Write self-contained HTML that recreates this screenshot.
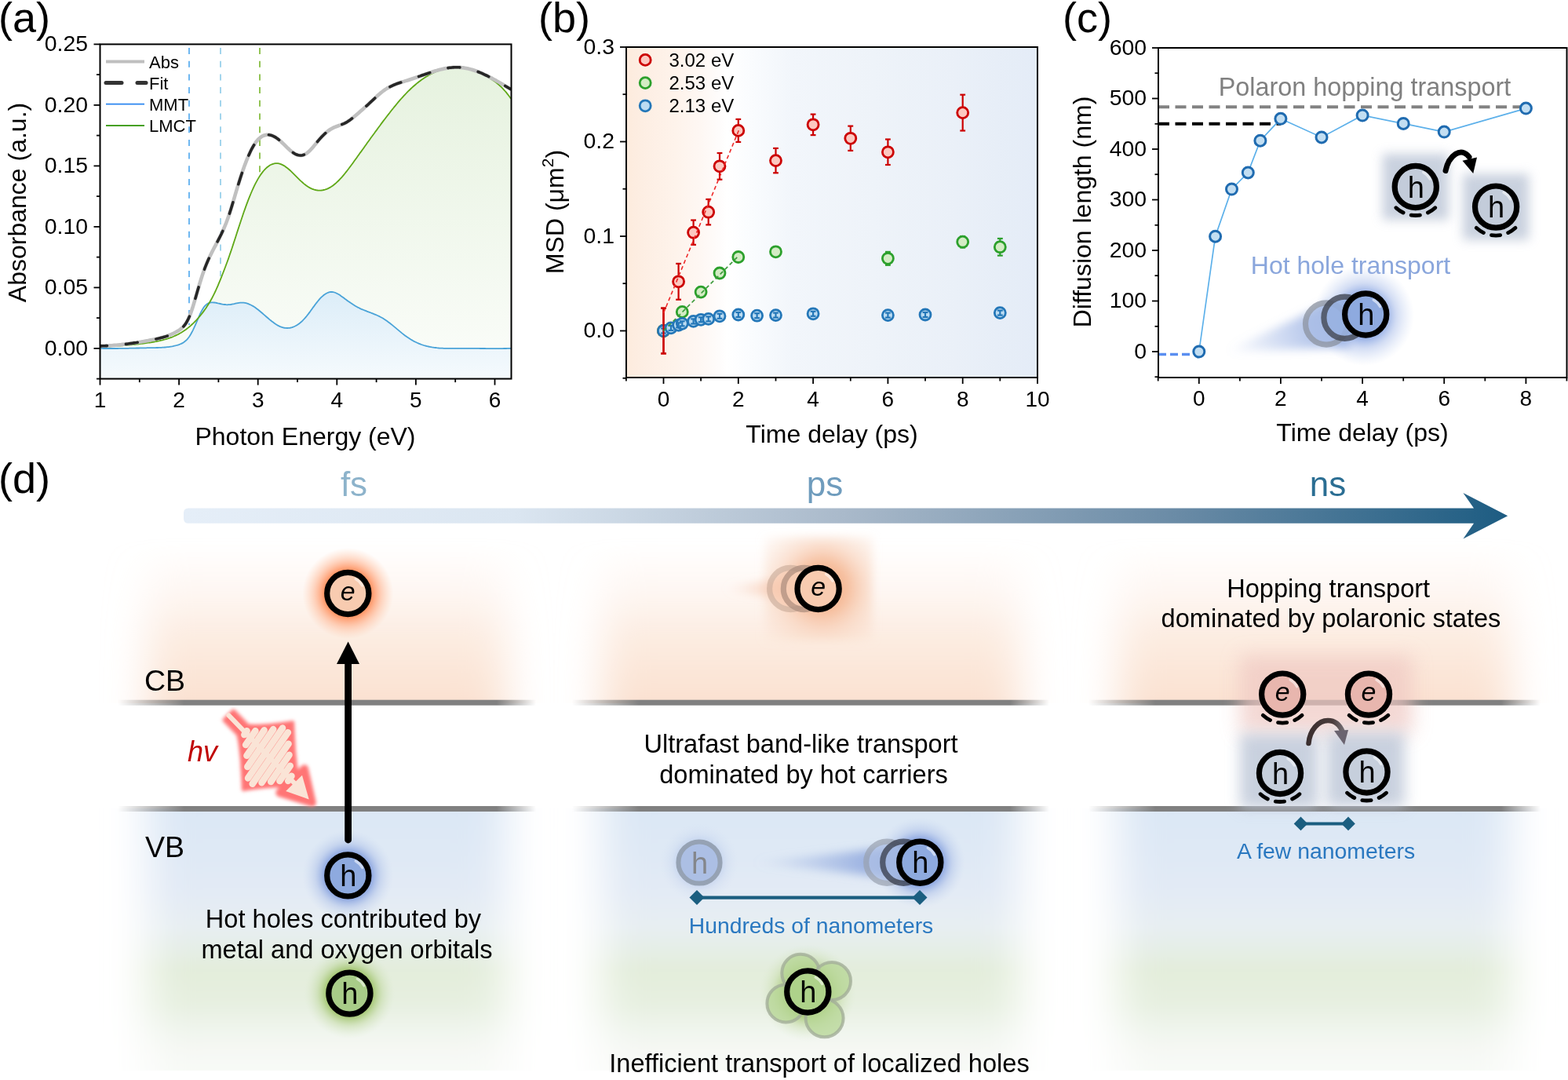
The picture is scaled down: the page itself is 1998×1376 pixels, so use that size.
<!DOCTYPE html>
<html><head><meta charset="utf-8"><title>Figure</title>
<style>html,body{margin:0;padding:0;background:#fff;} svg{display:block;}</style>
</head><body>
<svg width="1998" height="1376" viewBox="0 0 1998 1376" font-family="&quot;Liberation Sans&quot;, Arial, Helvetica, sans-serif">
<defs>
<filter id="blurx" x="-20%" y="-20%" width="140%" height="140%"><feGaussianBlur stdDeviation="26 4"/></filter>
<filter id="blur3" x="-30%" y="-30%" width="160%" height="160%"><feGaussianBlur stdDeviation="3"/></filter>
<filter id="blur6" x="-30%" y="-50%" width="160%" height="200%"><feGaussianBlur stdDeviation="6"/></filter>
<filter id="blur7" x="-50%" y="-50%" width="200%" height="200%"><feGaussianBlur stdDeviation="7"/></filter>
<filter id="blur2" x="-30%" y="-30%" width="160%" height="160%"><feGaussianBlur stdDeviation="2"/></filter>
<filter id="blur9" x="-50%" y="-50%" width="200%" height="200%"><feGaussianBlur stdDeviation="9"/></filter>
<filter id="blur12" x="-50%" y="-50%" width="200%" height="200%"><feGaussianBlur stdDeviation="12"/></filter>
</defs>
<rect width="1998" height="1376" fill="#fff"/>
<defs>
<linearGradient id="gd_arrow" x1="234" y1="0" x2="1921" y2="0" gradientUnits="userSpaceOnUse">
<stop offset="0" stop-color="#e5eef8"/><stop offset="0.25" stop-color="#dbe6f1"/><stop offset="0.5" stop-color="#a9b9ca"/><stop offset="0.75" stop-color="#6a8ba6"/><stop offset="1" stop-color="#1d5c82"/></linearGradient>
<linearGradient id="gd_or" x1="0" y1="690" x2="0" y2="896" gradientUnits="userSpaceOnUse">
<stop offset="0" stop-color="#fbe3d3" stop-opacity="0"/><stop offset="0.3" stop-color="#fbe3d3" stop-opacity="0.28"/><stop offset="0.6" stop-color="#fbe3d3" stop-opacity="0.68"/><stop offset="0.85" stop-color="#fbe3d3" stop-opacity="0.92"/><stop offset="1" stop-color="#fae1d1"/></linearGradient>
<linearGradient id="gd_vb" x1="0" y1="1030" x2="0" y2="1364" gradientUnits="userSpaceOnUse">
<stop offset="0" stop-color="#dbe7f5"/><stop offset="0.3" stop-color="#e2eaf5"/><stop offset="0.45" stop-color="#e7eef2"/><stop offset="0.62" stop-color="#e3eddb"/><stop offset="0.75" stop-color="#e7f0e1"/><stop offset="0.87" stop-color="#f2f6f0"/><stop offset="0.93" stop-color="#f6f8f4"/><stop offset="1" stop-color="#f8faf7"/></linearGradient>
<linearGradient id="gd_line" x1="0" y1="0" x2="1" y2="0">
<stop offset="0" stop-color="#808080" stop-opacity="0"/><stop offset="0.18" stop-color="#808080" stop-opacity="1"/><stop offset="0.9" stop-color="#808080" stop-opacity="1"/><stop offset="1" stop-color="#808080" stop-opacity="0"/></linearGradient>
<clipPath id="clip_cb"><rect x="0" y="600" width="1998" height="296"/></clipPath>
<clipPath id="clip_vb"><rect x="0" y="1030" width="1998" height="334"/></clipPath>
<radialGradient id="glow_or"><stop offset="0.5" stop-color="#ff8a55" stop-opacity="0.95"/><stop offset="0.75" stop-color="#ffb08a" stop-opacity="0.5"/><stop offset="1" stop-color="#ffc8a8" stop-opacity="0"/></radialGradient>
<radialGradient id="glow_bl"><stop offset="0.48" stop-color="#7896dc" stop-opacity="0.9"/><stop offset="0.72" stop-color="#a4b9e6" stop-opacity="0.42"/><stop offset="1" stop-color="#c8d6f0" stop-opacity="0"/></radialGradient>
<radialGradient id="glow_gr"><stop offset="0.48" stop-color="#94bc58" stop-opacity="0.9"/><stop offset="0.72" stop-color="#b6d290" stop-opacity="0.42"/><stop offset="1" stop-color="#d6e6c8" stop-opacity="0"/></radialGradient>
<linearGradient id="gd_trail2" x1="960" y1="0" x2="1130" y2="0" gradientUnits="userSpaceOnUse"><stop offset="0" stop-color="#9fb5e2" stop-opacity="0"/><stop offset="1" stop-color="#8fa8de" stop-opacity="1"/></linearGradient>
<linearGradient id="gd_trail_e" x1="920" y1="0" x2="1010" y2="0" gradientUnits="userSpaceOnUse"><stop offset="0" stop-color="#f6c8b0" stop-opacity="0"/><stop offset="1" stop-color="#f6c0a4" stop-opacity="0.9"/></linearGradient>
</defs>
<g clip-path="url(#clip_cb)"><rect x="188" y="680" width="457" height="240" fill="url(#gd_or)" filter="url(#blurx)"/></g>
<g clip-path="url(#clip_vb)"><rect x="188" y="1020" width="457" height="360" fill="url(#gd_vb)" filter="url(#blurx)"/></g>
<g clip-path="url(#clip_cb)"><rect x="767" y="680" width="532" height="240" fill="url(#gd_or)" filter="url(#blurx)"/></g>
<g clip-path="url(#clip_vb)"><rect x="767" y="1020" width="532" height="360" fill="url(#gd_vb)" filter="url(#blurx)"/></g>
<g clip-path="url(#clip_cb)"><rect x="1425" y="680" width="500" height="240" fill="url(#gd_or)" filter="url(#blurx)"/></g>
<g clip-path="url(#clip_vb)"><rect x="1425" y="1020" width="500" height="360" fill="url(#gd_vb)" filter="url(#blurx)"/></g>
<linearGradient id="gl0" x1="150" y1="0" x2="683" y2="0" gradientUnits="userSpaceOnUse"><stop offset="0" stop-color="#808080" stop-opacity="0"/><stop offset="0.159" stop-color="#808080"/><stop offset="0.906" stop-color="#808080"/><stop offset="1" stop-color="#808080" stop-opacity="0"/></linearGradient>
<rect x="150" y="891.7" width="533" height="7" fill="url(#gl0)"/>
<rect x="150" y="1027.0" width="533" height="7" fill="url(#gl0)"/>
<linearGradient id="gl1" x1="729" y1="0" x2="1337" y2="0" gradientUnits="userSpaceOnUse"><stop offset="0" stop-color="#808080" stop-opacity="0"/><stop offset="0.140" stop-color="#808080"/><stop offset="0.918" stop-color="#808080"/><stop offset="1" stop-color="#808080" stop-opacity="0"/></linearGradient>
<rect x="729" y="891.7" width="608" height="7" fill="url(#gl1)"/>
<rect x="729" y="1027.0" width="608" height="7" fill="url(#gl1)"/>
<linearGradient id="gl2" x1="1387" y1="0" x2="1963" y2="0" gradientUnits="userSpaceOnUse"><stop offset="0" stop-color="#808080" stop-opacity="0"/><stop offset="0.148" stop-color="#808080"/><stop offset="0.913" stop-color="#808080"/><stop offset="1" stop-color="#808080" stop-opacity="0"/></linearGradient>
<rect x="1387" y="891.7" width="576" height="7" fill="url(#gl2)"/>
<rect x="1387" y="1027.0" width="576" height="7" fill="url(#gl2)"/>
<path d="M240,647.5 L1878,647.5 L1864.4,628.1 L1921.2,657.3 L1864.4,686.4 L1878,666.8 L240,666.8 Q234,666.8 234,660.8 L234,653.5 Q234,647.5 240,647.5 Z" fill="url(#gd_arrow)"/>
<text x="451.0" y="632.0" font-size="44" text-anchor="middle" fill="#8db3cb" >fs</text>
<text x="1051.0" y="632.0" font-size="44" text-anchor="middle" fill="#6f9cbd" >ps</text>
<text x="1692.0" y="632.0" font-size="44" text-anchor="middle" fill="#2b6e93" >ns</text>
<text x="-2.0" y="627.7" font-size="54" text-anchor="start" fill="#000" >(d)</text>
<text x="184.0" y="880.0" font-size="37.5" text-anchor="start" fill="#000" >CB</text>
<text x="185.0" y="1092.0" font-size="37.5" text-anchor="start" fill="#000" >VB</text>
<text x="239.0" y="970.0" font-size="36" text-anchor="start" fill="#c00000" font-style="italic">hv</text>
<g transform="translate(291.4,911.4) rotate(45.9)">
<g filter="url(#blur2)"><path d="M0.0,-8.5 L2.0,-8.5 L4.0,-8.5 L6.0,-8.5 L8.0,-8.5 L10.0,-8.5 L12.0,-8.5 L14.0,-8.5 L16.0,-8.5 L18.0,-8.5 L20.0,-8.5 L22.0,-8.5 L24.0,-8.5 L26.0,-8.5 L27.8,-9.7 L29.5,-11.2 L31.2,-12.7 L32.8,-14.4 L34.5,-16.1 L36.1,-17.9 L37.8,-19.7 L39.4,-21.6 L41.0,-23.5 L42.6,-25.4 L44.2,-27.3 L45.8,-29.3 L47.4,-31.3 L49.0,-33.4 L50.6,-35.4 L52.2,-37.5 L53.8,-39.6 L55.4,-41.7 L56.9,-43.8 L58.5,-46.0 L60.1,-48.1 L61.6,-50.3 L63.2,-52.5 L65.6,-50.3 L68.1,-48.1 L70.5,-46.0 L72.9,-43.8 L75.4,-41.7 L77.8,-39.6 L80.2,-37.5 L82.6,-35.4 L85.0,-33.4 L87.4,-31.3 L89.8,-29.3 L92.2,-27.3 L94.6,-25.4 L97.0,-23.5 L99.4,-21.6 L101.8,-19.7 L104.1,-17.9 L106.5,-16.1 L108.8,-14.4 L111.2,-12.7 L113.5,-11.2 L115.8,-9.7 L118.0,-8.5 L120.0,-8.5 L122.0,-8.5 L124.0,-8.5 L126.0,-8.5 L128.0,-8.5 L130.0,-8.5 L130.0,8.5 L128.0,8.5 L126.0,8.5 L124.0,8.5 L122.0,8.5 L120.0,8.5 L118.0,8.5 L116.2,9.7 L114.5,11.2 L112.8,12.7 L111.2,14.4 L109.5,16.1 L107.9,17.9 L106.2,19.7 L104.6,21.6 L103.0,23.5 L101.4,25.4 L99.8,27.3 L98.2,29.3 L96.6,31.3 L95.0,33.4 L93.4,35.4 L91.8,37.5 L90.2,39.6 L88.6,41.7 L87.1,43.8 L85.5,46.0 L83.9,48.1 L82.4,50.3 L80.8,52.5 L78.4,50.3 L75.9,48.1 L73.5,46.0 L71.1,43.8 L68.6,41.7 L66.2,39.6 L63.8,37.5 L61.4,35.4 L59.0,33.4 L56.6,31.3 L54.2,29.3 L51.8,27.3 L49.4,25.4 L47.0,23.5 L44.6,21.6 L42.2,19.7 L39.9,17.9 L37.5,16.1 L35.2,14.4 L32.8,12.7 L30.5,11.2 L28.2,9.7 L26.0,8.5 L24.0,8.5 L22.0,8.5 L20.0,8.5 L18.0,8.5 L16.0,8.5 L14.0,8.5 L12.0,8.5 L10.0,8.5 L8.0,8.5 L6.0,8.5 L4.0,8.5 L2.0,8.5 L0.0,8.5 Z" fill="#ff7474" stroke="#ff7474" stroke-width="4" stroke-linejoin="round"/><path d="M116,-22 L154,1 L116,22 Z" fill="#ff7474" stroke="#ff7474" stroke-width="10" stroke-linejoin="round"/></g>
<path d="M0,0 L124,0" stroke="#fae4d6" stroke-width="6" stroke-linecap="round"/>
<path d="M30.4,-2.9 L31.6,2.9 M37.9,-10.7 L42.1,10.7 M45.1,-19.3 L52.9,19.3 M52.3,-28.5 L63.7,28.5 M59.4,-38.0 L74.6,38.0 M68.2,-39.1 L83.8,39.1 M79.1,-29.5 L90.9,29.5 M89.9,-20.3 L98.1,20.3 M100.7,-11.6 L105.3,11.6 M111.3,-3.7 L112.7,3.7" fill="none" stroke="#fae4d6" stroke-width="8.5" stroke-linecap="round"/>
<path d="M120,-14 L148,1 L120,15 Z" fill="#fae4d6"/>
</g>
<circle cx="443.3" cy="756" r="58" fill="url(#glow_or)"/>
<circle cx="443.3" cy="1115.4" r="58" fill="url(#glow_bl)"/>
<circle cx="445.4" cy="1265.6" r="58" fill="url(#glow_gr)"/>
<line x1="443.6" y1="1070" x2="443.6" y2="840" stroke="#000" stroke-width="8.8" stroke-linecap="round"/>
<path d="M429,846 L443.6,817.5 L458,846 Z" fill="#000"/>
<g>
<circle cx="443.3" cy="756.0" r="26.6" fill="#f8cbb0" stroke="#000" stroke-width="7.2"/>
<path d="M453.1,737.6 A20.8,20.8 0 0 1 461.7,746.2" fill="none" stroke="#fff" stroke-opacity="0.55" stroke-width="3.2" stroke-linecap="round"/>
<text x="443.3" y="764.5" font-size="34" text-anchor="middle" fill="#000" font-style="italic">e</text>
</g>
<g>
<circle cx="443.3" cy="1115.4" r="26.6" fill="#8eaadf" stroke="#000" stroke-width="7.2"/>
<path d="M453.1,1097.0 A20.8,20.8 0 0 1 461.7,1105.6" fill="none" stroke="#fff" stroke-opacity="0.55" stroke-width="3.2" stroke-linecap="round"/>
<text x="443.8" y="1128.9" font-size="38" text-anchor="middle" fill="#000">h</text>
</g>
<g>
<circle cx="445.4" cy="1265.6" r="26.6" fill="#a8cc88" stroke="#000" stroke-width="7.2"/>
<path d="M455.2,1247.2 A20.8,20.8 0 0 1 463.8,1255.8" fill="none" stroke="#fff" stroke-opacity="0.55" stroke-width="3.2" stroke-linecap="round"/>
<text x="445.9" y="1279.1" font-size="38" text-anchor="middle" fill="#000">h</text>
</g>
<text x="437.5" y="1181.7" font-size="32.6" text-anchor="middle" fill="#000" >Hot holes contributed by</text>
<text x="442.0" y="1220.7" font-size="32.6" text-anchor="middle" fill="#000" >metal and oxygen orbitals</text>
<radialGradient id="glow_e2" cx="1048" cy="748" r="95" gradientUnits="userSpaceOnUse"><stop offset="0.3" stop-color="#f5b48e" stop-opacity="0.9"/><stop offset="0.6" stop-color="#f7ccb2" stop-opacity="0.55"/><stop offset="1" stop-color="#f9dccb" stop-opacity="0.15"/></radialGradient>
<rect x="974" y="684" width="138" height="132" fill="url(#glow_e2)" filter="url(#blur6)"/>
<path d="M922,750 L1012,734 L1012,766 Z" fill="url(#gd_trail_e)" filter="url(#blur6)"/>
<g opacity="0.6">
<circle cx="1007.2" cy="750.0" r="26.6" fill="#f8cdb4" stroke="#c8aa98" stroke-width="7.2"/>
</g>
<g opacity="0.75">
<circle cx="1024.9" cy="750.0" r="26.6" fill="#f8cdb4" stroke="#b09080" stroke-width="7.2"/>
</g>
<g>
<circle cx="1042.6" cy="750.0" r="26.6" fill="#f8cbb0" stroke="#000" stroke-width="7.2"/>
<path d="M1052.4,731.6 A20.8,20.8 0 0 1 1061.0,740.2" fill="none" stroke="#fff" stroke-opacity="0.55" stroke-width="3.2" stroke-linecap="round"/>
<text x="1042.6" y="758.5" font-size="34" text-anchor="middle" fill="#000" font-style="italic">e</text>
</g>
<text x="1020.5" y="959.0" font-size="32.6" text-anchor="middle" fill="#000" >Ultrafast band-like transport</text>
<text x="1024.0" y="997.7" font-size="32.6" text-anchor="middle" fill="#000" >dominated by hot carriers</text>
<circle cx="891" cy="1099" r="50" fill="url(#glow_bl)" opacity="0.35"/>
<circle cx="1172" cy="1099" r="58" fill="url(#glow_bl)"/>
<path d="M955,1099 L1132,1080 L1132,1118 Z" fill="url(#gd_trail2)" filter="url(#blur6)"/>
<g opacity="0.85">
<circle cx="891.0" cy="1099.0" r="26.6" fill="#a9bde3" stroke="#8e9aaa" stroke-width="6"/>
<text x="891.5" y="1112.5" font-size="38" text-anchor="middle" fill="#7a7a7a">h</text>
</g>
<g opacity="0.7">
<circle cx="1130.3" cy="1098.7" r="26.6" fill="#b0c2e6" stroke="#9aa2b0" stroke-width="7.2"/>
</g>
<g opacity="0.8">
<circle cx="1151.3" cy="1098.7" r="26.6" fill="#a0b6e2" stroke="#3c4252" stroke-width="7.2"/>
</g>
<g>
<circle cx="1172.3" cy="1098.7" r="26.6" fill="#8eaadf" stroke="#000" stroke-width="7.2"/>
<path d="M1182.1,1080.3 A20.8,20.8 0 0 1 1190.7,1088.9" fill="none" stroke="#fff" stroke-opacity="0.55" stroke-width="3.2" stroke-linecap="round"/>
<text x="1172.8" y="1112.2" font-size="38" text-anchor="middle" fill="#000">h</text>
</g>
<line x1="888" y1="1143.6" x2="1172" y2="1143.6" stroke="#1b5e80" stroke-width="4.2"/>
<path d="M878.5,1143.6 L888,1134.1 L897.5,1143.6 L888,1153.1 Z" fill="#1b5e80"/>
<path d="M1162.5,1143.6 L1172,1134.1 L1181.5,1143.6 L1172,1153.1 Z" fill="#1b5e80"/>
<text x="1033.5" y="1188.5" font-size="28.3" text-anchor="middle" fill="#2a78c0" >Hundreds of nanometers</text>
<circle cx="1029" cy="1265" r="62" fill="url(#glow_gr)" opacity="0.8"/>
<circle cx="1020.3" cy="1239.7" r="24" fill="#b5d694" fill-opacity="0.75" stroke="#a3ae98" stroke-opacity="0.8" stroke-width="4"/>
<circle cx="1060" cy="1250" r="24" fill="#b5d694" fill-opacity="0.75" stroke="#a3ae98" stroke-opacity="0.8" stroke-width="4"/>
<circle cx="1001.4" cy="1278.4" r="24" fill="#b5d694" fill-opacity="0.75" stroke="#a3ae98" stroke-opacity="0.8" stroke-width="4"/>
<circle cx="1050.6" cy="1297.3" r="24" fill="#b5d694" fill-opacity="0.75" stroke="#a3ae98" stroke-opacity="0.8" stroke-width="4"/>
<g>
<circle cx="1029.3" cy="1263.5" r="26.6" fill="#aed28a" stroke="#000" stroke-width="7.2"/>
<path d="M1039.1,1245.1 A20.8,20.8 0 0 1 1047.7,1253.7" fill="none" stroke="#fff" stroke-opacity="0.55" stroke-width="3.2" stroke-linecap="round"/>
<text x="1029.8" y="1277.0" font-size="38" text-anchor="middle" fill="#000">h</text>
</g>
<text x="1044.0" y="1365.6" font-size="32.6" text-anchor="middle" fill="#000" >Inefficient transport of localized holes</text>
<text x="1692.7" y="761.0" font-size="32.6" text-anchor="middle" fill="#000" >Hopping transport</text>
<text x="1696.0" y="799.0" font-size="32.6" text-anchor="middle" fill="#000" >dominated by polaronic states</text>
<rect x="1580" y="835" width="220" height="100" fill="#efc8c2" filter="url(#blur12)" opacity="0.7"/>
<rect x="1580" y="935" width="100" height="95" fill="#c0c9d9" filter="url(#blur9)" opacity="0.85"/>
<rect x="1690" y="933" width="100" height="95" fill="#c0c9d9" filter="url(#blur9)" opacity="0.85"/>
<g>
<circle cx="1634.2" cy="884.6" r="26.6" fill="#e8b6ae" stroke="#000" stroke-width="7.2"/>
<path d="M1644.0,866.2 A20.8,20.8 0 0 1 1652.6,874.8" fill="none" stroke="#fff" stroke-opacity="0.55" stroke-width="3.2" stroke-linecap="round"/>
<text x="1634.2" y="893.1" font-size="34" text-anchor="middle" fill="#000" font-style="italic">e</text>
</g>
<path d="M1659.1,911.3 A36.5,36.5 0 0 1 1609.3,911.3" fill="none" stroke="#000" stroke-width="4.8" stroke-linecap="round" stroke-dasharray="11.3,10.4"/>
<g>
<circle cx="1744.0" cy="884.6" r="26.6" fill="#e8b6ae" stroke="#000" stroke-width="7.2"/>
<path d="M1753.8,866.2 A20.8,20.8 0 0 1 1762.4,874.8" fill="none" stroke="#fff" stroke-opacity="0.55" stroke-width="3.2" stroke-linecap="round"/>
<text x="1744.0" y="893.1" font-size="34" text-anchor="middle" fill="#000" font-style="italic">e</text>
</g>
<path d="M1768.9,911.3 A36.5,36.5 0 0 1 1719.1,911.3" fill="none" stroke="#000" stroke-width="4.8" stroke-linecap="round" stroke-dasharray="11.3,10.4"/>
<g>
<circle cx="1631.0" cy="985.0" r="26.6" fill="#c6cfdc" stroke="#000" stroke-width="7.2"/>
<path d="M1640.8,966.6 A20.8,20.8 0 0 1 1649.4,975.2" fill="none" stroke="#fff" stroke-opacity="0.55" stroke-width="3.2" stroke-linecap="round"/>
<text x="1631.5" y="998.5" font-size="38" text-anchor="middle" fill="#000">h</text>
</g>
<path d="M1655.9,1011.7 A36.5,36.5 0 0 1 1606.1,1011.7" fill="none" stroke="#000" stroke-width="4.8" stroke-linecap="round" stroke-dasharray="11.3,10.4"/>
<g>
<circle cx="1741.5" cy="983.5" r="26.6" fill="#c6cfdc" stroke="#000" stroke-width="7.2"/>
<path d="M1751.3,965.1 A20.8,20.8 0 0 1 1759.9,973.7" fill="none" stroke="#fff" stroke-opacity="0.55" stroke-width="3.2" stroke-linecap="round"/>
<text x="1742.0" y="997.0" font-size="38" text-anchor="middle" fill="#000">h</text>
</g>
<path d="M1766.4,1010.2 A36.5,36.5 0 0 1 1716.6,1010.2" fill="none" stroke="#000" stroke-width="4.8" stroke-linecap="round" stroke-dasharray="11.3,10.4"/>
<linearGradient id="g_hop" x1="1665" y1="0" x2="1720" y2="0" gradientUnits="userSpaceOnUse"><stop offset="0" stop-color="#3a2e2e"/><stop offset="0.6" stop-color="#4a3c3c"/><stop offset="1" stop-color="#8a8890"/></linearGradient>
<path d="M1667.5,947 C1669,930 1680,918 1692,918 C1702,918 1708,925 1711,933" fill="none" stroke="url(#g_hop)" stroke-width="6.5" stroke-linecap="round"/>
<path d="M1700,931 L1718,930 L1713,949 Z" fill="#6a6470"/>
<line x1="1657.5" y1="1049.4" x2="1718" y2="1049.4" stroke="#1b5e80" stroke-width="4"/>
<path d="M1648.7,1049.4 L1657.5,1040.6 L1666.3,1049.4 L1657.5,1058.2 Z" fill="#1b5e80"/>
<path d="M1709.2,1049.4 L1718,1040.6 L1726.8,1049.4 L1718,1058.2 Z" fill="#1b5e80"/>
<text x="1689.5" y="1094.0" font-size="28.4" text-anchor="middle" fill="#2a78c0" >A few nanometers</text>
<defs>
<linearGradient id="ga_g" x1="0" y1="0" x2="0" y2="1"><stop offset="0" stop-color="#e6f2df"/><stop offset="1" stop-color="#fbfdfa"/></linearGradient>
<linearGradient id="ga_b" x1="0" y1="0" x2="0" y2="1"><stop offset="0" stop-color="#dcedf8"/><stop offset="1" stop-color="#f5fafd"/></linearGradient>
<clipPath id="ca"><rect x="127.5" y="56.4" width="524.0" height="426.2"/></clipPath>
</defs>
<g clip-path="url(#ca)">
<path d="M127.5,442.1 L129.0,442.0 L130.5,441.9 L132.0,441.8 L133.5,441.7 L135.0,441.7 L136.5,441.6 L138.0,441.5 L139.5,441.4 L141.0,441.3 L142.5,441.2 L144.0,441.1 L145.5,441.0 L147.0,440.9 L148.5,440.8 L150.0,440.7 L151.5,440.6 L153.0,440.5 L154.5,440.4 L156.0,440.3 L157.5,440.2 L159.0,440.1 L160.5,439.9 L162.0,439.8 L163.5,439.7 L165.0,439.5 L166.5,439.4 L168.0,439.3 L169.5,439.1 L171.0,439.0 L172.5,438.8 L174.0,438.6 L175.5,438.5 L177.0,438.3 L178.5,438.1 L180.0,437.9 L181.5,437.8 L183.0,437.6 L184.5,437.4 L186.0,437.1 L187.5,436.9 L189.0,436.7 L190.5,436.5 L192.0,436.3 L193.5,436.0 L195.0,435.8 L196.5,435.5 L198.0,435.2 L199.5,435.0 L201.0,434.7 L202.5,434.4 L204.0,434.0 L205.5,433.7 L207.0,433.3 L208.5,432.9 L210.0,432.5 L211.5,432.1 L213.0,431.7 L214.5,431.2 L216.0,430.7 L217.5,430.1 L219.0,429.6 L220.5,429.0 L222.0,428.3 L223.5,427.6 L225.0,426.9 L226.5,426.2 L228.0,425.4 L229.5,424.5 L231.0,423.7 L232.5,422.7 L234.0,421.8 L235.5,420.7 L237.0,419.7 L238.5,418.6 L240.0,417.4 L241.5,416.2 L243.0,414.9 L244.5,413.5 L246.0,412.1 L247.5,410.7 L249.0,409.1 L250.5,407.6 L252.0,405.9 L253.5,404.2 L255.0,402.4 L256.5,400.5 L258.0,398.6 L259.5,396.6 L261.0,394.5 L262.5,392.4 L264.0,390.1 L265.5,387.7 L267.0,385.3 L268.5,382.7 L270.0,380.0 L271.5,377.1 L273.0,374.1 L274.5,371.0 L276.0,367.7 L277.5,364.3 L279.0,360.7 L280.5,357.1 L282.0,353.3 L283.5,349.5 L285.0,345.7 L286.5,341.8 L288.0,337.8 L289.5,333.7 L291.0,329.6 L292.5,325.3 L294.0,320.9 L295.5,316.5 L297.0,311.9 L298.5,307.3 L300.0,302.7 L301.5,298.0 L303.0,293.4 L304.5,288.8 L306.0,284.2 L307.5,279.7 L309.0,275.2 L310.5,270.8 L312.0,266.6 L313.5,262.4 L315.0,258.4 L316.5,254.4 L318.0,250.6 L319.5,247.0 L321.0,243.5 L322.5,240.1 L324.0,236.9 L325.5,233.9 L327.0,231.1 L328.5,228.4 L330.0,225.9 L331.5,223.5 L333.0,221.4 L334.5,219.4 L336.0,217.5 L337.5,215.9 L339.0,214.4 L340.5,213.0 L342.0,211.9 L343.5,210.8 L345.0,210.0 L346.5,209.3 L348.0,208.8 L349.5,208.4 L351.0,208.2 L352.5,208.1 L354.0,208.2 L355.5,208.4 L357.0,208.8 L358.5,209.4 L360.0,210.1 L361.5,210.9 L363.0,211.8 L364.5,212.9 L366.0,214.0 L367.5,215.2 L369.0,216.5 L370.5,217.9 L372.0,219.3 L373.5,220.8 L375.0,222.3 L376.5,223.8 L378.0,225.3 L379.5,226.8 L381.0,228.3 L382.5,229.8 L384.0,231.2 L385.5,232.5 L387.0,233.9 L388.5,235.1 L390.0,236.2 L391.5,237.3 L393.0,238.2 L394.5,239.1 L396.0,239.9 L397.5,240.6 L399.0,241.1 L400.5,241.6 L402.0,242.0 L403.5,242.3 L405.0,242.5 L406.5,242.6 L408.0,242.6 L409.5,242.5 L411.0,242.3 L412.5,242.0 L414.0,241.7 L415.5,241.2 L417.0,240.6 L418.5,239.9 L420.0,239.1 L421.5,238.3 L423.0,237.3 L424.5,236.2 L426.0,235.0 L427.5,233.8 L429.0,232.4 L430.5,231.0 L432.0,229.5 L433.5,227.9 L435.0,226.3 L436.5,224.6 L438.0,222.8 L439.5,221.0 L441.0,219.1 L442.5,217.2 L444.0,215.3 L445.5,213.3 L447.0,211.3 L448.5,209.3 L450.0,207.2 L451.5,205.1 L453.0,203.0 L454.5,200.9 L456.0,198.8 L457.5,196.7 L459.0,194.6 L460.5,192.6 L462.0,190.5 L463.5,188.4 L465.0,186.3 L466.5,184.2 L468.0,182.1 L469.5,180.0 L471.0,177.9 L472.5,175.8 L474.0,173.8 L475.5,171.7 L477.0,169.7 L478.5,167.6 L480.0,165.6 L481.5,163.5 L483.0,161.5 L484.5,159.5 L486.0,157.4 L487.5,155.4 L489.0,153.4 L490.5,151.5 L492.0,149.5 L493.5,147.5 L495.0,145.6 L496.5,143.7 L498.0,141.7 L499.5,139.8 L501.0,138.0 L502.5,136.1 L504.0,134.3 L505.5,132.5 L507.0,130.7 L508.5,128.9 L510.0,127.2 L511.5,125.5 L513.0,123.8 L514.5,122.2 L516.0,120.6 L517.5,119.0 L519.0,117.4 L520.5,115.9 L522.0,114.5 L523.5,113.0 L525.0,111.6 L526.5,110.3 L528.0,109.0 L529.5,107.7 L531.0,106.4 L532.5,105.2 L534.0,104.0 L535.5,102.9 L537.0,101.8 L538.5,100.7 L540.0,99.7 L541.5,98.7 L543.0,97.8 L544.5,96.9 L546.0,96.0 L547.5,95.1 L549.0,94.3 L550.5,93.6 L552.0,92.8 L553.5,92.2 L555.0,91.5 L556.5,90.9 L558.0,90.3 L559.5,89.7 L561.0,89.2 L562.5,88.8 L564.0,88.3 L565.5,87.9 L567.0,87.6 L568.5,87.2 L570.0,86.9 L571.5,86.7 L573.0,86.5 L574.5,86.3 L576.0,86.2 L577.5,86.0 L579.0,86.0 L580.5,85.9 L582.0,85.9 L583.5,86.0 L585.0,86.0 L586.5,86.2 L588.0,86.3 L589.5,86.5 L591.0,86.7 L592.5,87.0 L594.0,87.2 L595.5,87.6 L597.0,87.9 L598.5,88.3 L600.0,88.7 L601.5,89.2 L603.0,89.7 L604.5,90.2 L606.0,90.7 L607.5,91.3 L609.0,91.9 L610.5,92.5 L612.0,93.2 L613.5,93.9 L615.0,94.6 L616.5,95.4 L618.0,96.1 L619.5,96.9 L621.0,97.8 L622.5,98.6 L624.0,99.5 L625.5,100.5 L627.0,101.4 L628.5,102.5 L630.0,103.5 L631.5,104.6 L633.0,105.8 L634.5,107.1 L636.0,108.4 L637.5,109.7 L639.0,111.2 L640.5,112.7 L642.0,114.3 L643.5,116.0 L645.0,117.7 L646.5,119.6 L648.0,121.5 L649.5,123.5 L651.0,125.7 L651.5,482.6 L127.5,482.6 Z" fill="url(#ga_g)" gradientUnits="userSpaceOnUse"/>
<path d="M127.5,443.9 L129.0,443.9 L130.5,443.9 L132.0,444.0 L133.5,444.0 L135.0,444.0 L136.5,444.0 L138.0,444.0 L139.5,444.0 L141.0,444.0 L142.5,444.0 L144.0,444.0 L145.5,444.0 L147.0,444.0 L148.5,444.0 L150.0,444.0 L151.5,443.9 L153.0,443.9 L154.5,443.9 L156.0,443.9 L157.5,443.9 L159.0,443.8 L160.5,443.8 L162.0,443.8 L163.5,443.8 L165.0,443.7 L166.5,443.7 L168.0,443.7 L169.5,443.6 L171.0,443.6 L172.5,443.6 L174.0,443.5 L175.5,443.5 L177.0,443.5 L178.5,443.4 L180.0,443.4 L181.5,443.4 L183.0,443.3 L184.5,443.3 L186.0,443.3 L187.5,443.2 L189.0,443.2 L190.5,443.2 L192.0,443.2 L193.5,443.1 L195.0,443.1 L196.5,443.1 L198.0,443.1 L199.5,443.0 L201.0,443.0 L202.5,442.9 L204.0,442.9 L205.5,442.8 L207.0,442.7 L208.5,442.6 L210.0,442.5 L211.5,442.4 L213.0,442.2 L214.5,442.1 L216.0,441.8 L217.5,441.6 L219.0,441.4 L220.5,441.1 L222.0,440.7 L223.5,440.4 L225.0,440.0 L226.5,439.6 L228.0,439.1 L229.5,438.5 L231.0,437.9 L232.5,437.1 L234.0,436.2 L235.5,435.1 L237.0,433.8 L238.5,432.3 L240.0,430.5 L241.5,428.4 L243.0,426.0 L244.5,423.3 L246.0,420.3 L247.5,417.1 L249.0,413.8 L250.5,410.3 L252.0,406.8 L253.5,403.3 L255.0,400.0 L256.5,396.9 L258.0,394.2 L259.5,391.8 L261.0,389.9 L262.5,388.4 L264.0,387.2 L265.5,386.3 L267.0,385.8 L268.5,385.4 L270.0,385.3 L271.5,385.3 L273.0,385.5 L274.5,385.7 L276.0,386.0 L277.5,386.4 L279.0,386.7 L280.5,387.0 L282.0,387.3 L283.5,387.6 L285.0,387.8 L286.5,388.0 L288.0,388.2 L289.5,388.3 L291.0,388.2 L292.5,388.1 L294.0,388.0 L295.5,387.7 L297.0,387.4 L298.5,387.1 L300.0,386.7 L301.5,386.4 L303.0,386.1 L304.5,385.8 L306.0,385.7 L307.5,385.6 L309.0,385.6 L310.5,385.7 L312.0,385.9 L313.5,386.2 L315.0,386.6 L316.5,387.2 L318.0,387.8 L319.5,388.5 L321.0,389.3 L322.5,390.1 L324.0,391.1 L325.5,392.1 L327.0,393.2 L328.5,394.3 L330.0,395.5 L331.5,396.7 L333.0,398.0 L334.5,399.3 L336.0,400.6 L337.5,401.9 L339.0,403.2 L340.5,404.5 L342.0,405.8 L343.5,407.1 L345.0,408.3 L346.5,409.5 L348.0,410.6 L349.5,411.7 L351.0,412.8 L352.5,413.7 L354.0,414.6 L355.5,415.4 L357.0,416.1 L358.5,416.7 L360.0,417.1 L361.5,417.5 L363.0,417.8 L364.5,417.9 L366.0,418.0 L367.5,417.9 L369.0,417.8 L370.5,417.5 L372.0,417.1 L373.5,416.6 L375.0,416.0 L376.5,415.3 L378.0,414.4 L379.5,413.5 L381.0,412.4 L382.5,411.3 L384.0,410.0 L385.5,408.6 L387.0,407.0 L388.5,405.4 L390.0,403.7 L391.5,401.8 L393.0,399.9 L394.5,397.9 L396.0,395.8 L397.5,393.7 L399.0,391.6 L400.5,389.6 L402.0,387.5 L403.5,385.6 L405.0,383.7 L406.5,381.9 L408.0,380.2 L409.5,378.7 L411.0,377.3 L412.5,376.0 L414.0,374.9 L415.5,374.0 L417.0,373.2 L418.5,372.6 L420.0,372.2 L421.5,372.0 L423.0,372.0 L424.5,372.1 L426.0,372.5 L427.5,373.0 L429.0,373.7 L430.5,374.5 L432.0,375.3 L433.5,376.3 L435.0,377.4 L436.5,378.4 L438.0,379.5 L439.5,380.7 L441.0,381.8 L442.5,382.9 L444.0,384.0 L445.5,385.0 L447.0,386.1 L448.5,387.1 L450.0,388.1 L451.5,389.0 L453.0,389.9 L454.5,390.8 L456.0,391.6 L457.5,392.3 L459.0,393.1 L460.5,393.8 L462.0,394.4 L463.5,395.0 L465.0,395.6 L466.5,396.2 L468.0,396.8 L469.5,397.4 L471.0,397.9 L472.5,398.5 L474.0,399.1 L475.5,399.7 L477.0,400.3 L478.5,400.9 L480.0,401.5 L481.5,402.2 L483.0,402.9 L484.5,403.7 L486.0,404.5 L487.5,405.3 L489.0,406.2 L490.5,407.2 L492.0,408.2 L493.5,409.3 L495.0,410.4 L496.5,411.5 L498.0,412.7 L499.5,413.9 L501.0,415.1 L502.5,416.4 L504.0,417.6 L505.5,418.9 L507.0,420.1 L508.5,421.4 L510.0,422.6 L511.5,423.9 L513.0,425.1 L514.5,426.3 L516.0,427.4 L517.5,428.5 L519.0,429.6 L520.5,430.6 L522.0,431.6 L523.5,432.6 L525.0,433.4 L526.5,434.3 L528.0,435.1 L529.5,435.8 L531.0,436.5 L532.5,437.2 L534.0,437.8 L535.5,438.4 L537.0,439.0 L538.5,439.5 L540.0,440.0 L541.5,440.4 L543.0,440.8 L544.5,441.2 L546.0,441.5 L547.5,441.8 L549.0,442.1 L550.5,442.4 L552.0,442.6 L553.5,442.8 L555.0,443.0 L556.5,443.2 L558.0,443.3 L559.5,443.5 L561.0,443.6 L562.5,443.7 L564.0,443.7 L565.5,443.8 L567.0,443.8 L568.5,443.9 L570.0,443.9 L571.5,443.9 L573.0,443.9 L574.5,443.9 L576.0,443.9 L577.5,443.9 L579.0,443.9 L580.5,443.9 L582.0,443.8 L583.5,443.8 L585.0,443.8 L586.5,443.8 L588.0,443.8 L589.5,443.8 L591.0,443.8 L592.5,443.8 L594.0,443.8 L595.5,443.8 L597.0,443.8 L598.5,443.8 L600.0,443.8 L601.5,443.8 L603.0,443.8 L604.5,443.9 L606.0,443.9 L607.5,443.9 L609.0,443.9 L610.5,443.9 L612.0,444.0 L613.5,444.0 L615.0,444.0 L616.5,444.0 L618.0,444.0 L619.5,444.1 L621.0,444.1 L622.5,444.1 L624.0,444.1 L625.5,444.1 L627.0,444.1 L628.5,444.1 L630.0,444.1 L631.5,444.1 L633.0,444.1 L634.5,444.1 L636.0,444.1 L637.5,444.1 L639.0,444.1 L640.5,444.1 L642.0,444.0 L643.5,444.0 L645.0,444.0 L646.5,443.9 L648.0,443.9 L649.5,443.8 L651.0,443.8 L651.5,482.6 L127.5,482.6 Z" fill="url(#ga_b)"/>
<line x1="241" y1="61" x2="241" y2="414" stroke="#4ba6ee" stroke-width="1.6" stroke-dasharray="8,8.7"/>
<line x1="281" y1="61" x2="281" y2="352" stroke="#8ccbe8" stroke-width="1.6" stroke-dasharray="8,8.7"/>
<line x1="331" y1="61" x2="331" y2="222" stroke="#77b52a" stroke-width="1.6" stroke-dasharray="8,8.7"/>
<path d="M127.5,443.9 L129.0,443.9 L130.5,443.9 L132.0,444.0 L133.5,444.0 L135.0,444.0 L136.5,444.0 L138.0,444.0 L139.5,444.0 L141.0,444.0 L142.5,444.0 L144.0,444.0 L145.5,444.0 L147.0,444.0 L148.5,444.0 L150.0,444.0 L151.5,443.9 L153.0,443.9 L154.5,443.9 L156.0,443.9 L157.5,443.9 L159.0,443.8 L160.5,443.8 L162.0,443.8 L163.5,443.8 L165.0,443.7 L166.5,443.7 L168.0,443.7 L169.5,443.6 L171.0,443.6 L172.5,443.6 L174.0,443.5 L175.5,443.5 L177.0,443.5 L178.5,443.4 L180.0,443.4 L181.5,443.4 L183.0,443.3 L184.5,443.3 L186.0,443.3 L187.5,443.2 L189.0,443.2 L190.5,443.2 L192.0,443.2 L193.5,443.1 L195.0,443.1 L196.5,443.1 L198.0,443.1 L199.5,443.0 L201.0,443.0 L202.5,442.9 L204.0,442.9 L205.5,442.8 L207.0,442.7 L208.5,442.6 L210.0,442.5 L211.5,442.4 L213.0,442.2 L214.5,442.1 L216.0,441.8 L217.5,441.6 L219.0,441.4 L220.5,441.1 L222.0,440.7 L223.5,440.4 L225.0,440.0 L226.5,439.6 L228.0,439.1 L229.5,438.5 L231.0,437.9 L232.5,437.1 L234.0,436.2 L235.5,435.1 L237.0,433.8 L238.5,432.3 L240.0,430.5 L241.5,428.4 L243.0,426.0 L244.5,423.3 L246.0,420.3 L247.5,417.1 L249.0,413.8 L250.5,410.3 L252.0,406.8 L253.5,403.3 L255.0,400.0 L256.5,396.9 L258.0,394.2 L259.5,391.8 L261.0,389.9 L262.5,388.4 L264.0,387.2 L265.5,386.3 L267.0,385.8 L268.5,385.4 L270.0,385.3 L271.5,385.3 L273.0,385.5 L274.5,385.7 L276.0,386.0 L277.5,386.4 L279.0,386.7 L280.5,387.0 L282.0,387.3 L283.5,387.6 L285.0,387.8 L286.5,388.0 L288.0,388.2 L289.5,388.3 L291.0,388.2 L292.5,388.1 L294.0,388.0 L295.5,387.7 L297.0,387.4 L298.5,387.1 L300.0,386.7 L301.5,386.4 L303.0,386.1 L304.5,385.8 L306.0,385.7 L307.5,385.6 L309.0,385.6 L310.5,385.7 L312.0,385.9 L313.5,386.2 L315.0,386.6 L316.5,387.2 L318.0,387.8 L319.5,388.5 L321.0,389.3 L322.5,390.1 L324.0,391.1 L325.5,392.1 L327.0,393.2 L328.5,394.3 L330.0,395.5 L331.5,396.7 L333.0,398.0 L334.5,399.3 L336.0,400.6 L337.5,401.9 L339.0,403.2 L340.5,404.5 L342.0,405.8 L343.5,407.1 L345.0,408.3 L346.5,409.5 L348.0,410.6 L349.5,411.7 L351.0,412.8 L352.5,413.7 L354.0,414.6 L355.5,415.4 L357.0,416.1 L358.5,416.7 L360.0,417.1 L361.5,417.5 L363.0,417.8 L364.5,417.9 L366.0,418.0 L367.5,417.9 L369.0,417.8 L370.5,417.5 L372.0,417.1 L373.5,416.6 L375.0,416.0 L376.5,415.3 L378.0,414.4 L379.5,413.5 L381.0,412.4 L382.5,411.3 L384.0,410.0 L385.5,408.6 L387.0,407.0 L388.5,405.4 L390.0,403.7 L391.5,401.8 L393.0,399.9 L394.5,397.9 L396.0,395.8 L397.5,393.7 L399.0,391.6 L400.5,389.6 L402.0,387.5 L403.5,385.6 L405.0,383.7 L406.5,381.9 L408.0,380.2 L409.5,378.7 L411.0,377.3 L412.5,376.0 L414.0,374.9 L415.5,374.0 L417.0,373.2 L418.5,372.6 L420.0,372.2 L421.5,372.0 L423.0,372.0 L424.5,372.1 L426.0,372.5 L427.5,373.0 L429.0,373.7 L430.5,374.5 L432.0,375.3 L433.5,376.3 L435.0,377.4 L436.5,378.4 L438.0,379.5 L439.5,380.7 L441.0,381.8 L442.5,382.9 L444.0,384.0 L445.5,385.0 L447.0,386.1 L448.5,387.1 L450.0,388.1 L451.5,389.0 L453.0,389.9 L454.5,390.8 L456.0,391.6 L457.5,392.3 L459.0,393.1 L460.5,393.8 L462.0,394.4 L463.5,395.0 L465.0,395.6 L466.5,396.2 L468.0,396.8 L469.5,397.4 L471.0,397.9 L472.5,398.5 L474.0,399.1 L475.5,399.7 L477.0,400.3 L478.5,400.9 L480.0,401.5 L481.5,402.2 L483.0,402.9 L484.5,403.7 L486.0,404.5 L487.5,405.3 L489.0,406.2 L490.5,407.2 L492.0,408.2 L493.5,409.3 L495.0,410.4 L496.5,411.5 L498.0,412.7 L499.5,413.9 L501.0,415.1 L502.5,416.4 L504.0,417.6 L505.5,418.9 L507.0,420.1 L508.5,421.4 L510.0,422.6 L511.5,423.9 L513.0,425.1 L514.5,426.3 L516.0,427.4 L517.5,428.5 L519.0,429.6 L520.5,430.6 L522.0,431.6 L523.5,432.6 L525.0,433.4 L526.5,434.3 L528.0,435.1 L529.5,435.8 L531.0,436.5 L532.5,437.2 L534.0,437.8 L535.5,438.4 L537.0,439.0 L538.5,439.5 L540.0,440.0 L541.5,440.4 L543.0,440.8 L544.5,441.2 L546.0,441.5 L547.5,441.8 L549.0,442.1 L550.5,442.4 L552.0,442.6 L553.5,442.8 L555.0,443.0 L556.5,443.2 L558.0,443.3 L559.5,443.5 L561.0,443.6 L562.5,443.7 L564.0,443.7 L565.5,443.8 L567.0,443.8 L568.5,443.9 L570.0,443.9 L571.5,443.9 L573.0,443.9 L574.5,443.9 L576.0,443.9 L577.5,443.9 L579.0,443.9 L580.5,443.9 L582.0,443.8 L583.5,443.8 L585.0,443.8 L586.5,443.8 L588.0,443.8 L589.5,443.8 L591.0,443.8 L592.5,443.8 L594.0,443.8 L595.5,443.8 L597.0,443.8 L598.5,443.8 L600.0,443.8 L601.5,443.8 L603.0,443.8 L604.5,443.9 L606.0,443.9 L607.5,443.9 L609.0,443.9 L610.5,443.9 L612.0,444.0 L613.5,444.0 L615.0,444.0 L616.5,444.0 L618.0,444.0 L619.5,444.1 L621.0,444.1 L622.5,444.1 L624.0,444.1 L625.5,444.1 L627.0,444.1 L628.5,444.1 L630.0,444.1 L631.5,444.1 L633.0,444.1 L634.5,444.1 L636.0,444.1 L637.5,444.1 L639.0,444.1 L640.5,444.1 L642.0,444.0 L643.5,444.0 L645.0,444.0 L646.5,443.9 L648.0,443.9 L649.5,443.8 L651.0,443.8" fill="none" stroke="#4aa3d8" stroke-width="1.8"/>
<path d="M127.5,442.1 L129.0,442.0 L130.5,441.9 L132.0,441.8 L133.5,441.7 L135.0,441.7 L136.5,441.6 L138.0,441.5 L139.5,441.4 L141.0,441.3 L142.5,441.2 L144.0,441.1 L145.5,441.0 L147.0,440.9 L148.5,440.8 L150.0,440.7 L151.5,440.6 L153.0,440.5 L154.5,440.4 L156.0,440.3 L157.5,440.2 L159.0,440.1 L160.5,439.9 L162.0,439.8 L163.5,439.7 L165.0,439.5 L166.5,439.4 L168.0,439.3 L169.5,439.1 L171.0,439.0 L172.5,438.8 L174.0,438.6 L175.5,438.5 L177.0,438.3 L178.5,438.1 L180.0,437.9 L181.5,437.8 L183.0,437.6 L184.5,437.4 L186.0,437.1 L187.5,436.9 L189.0,436.7 L190.5,436.5 L192.0,436.3 L193.5,436.0 L195.0,435.8 L196.5,435.5 L198.0,435.2 L199.5,435.0 L201.0,434.7 L202.5,434.4 L204.0,434.0 L205.5,433.7 L207.0,433.3 L208.5,432.9 L210.0,432.5 L211.5,432.1 L213.0,431.7 L214.5,431.2 L216.0,430.7 L217.5,430.1 L219.0,429.6 L220.5,429.0 L222.0,428.3 L223.5,427.6 L225.0,426.9 L226.5,426.2 L228.0,425.4 L229.5,424.5 L231.0,423.7 L232.5,422.7 L234.0,421.8 L235.5,420.7 L237.0,419.7 L238.5,418.6 L240.0,417.4 L241.5,416.2 L243.0,414.9 L244.5,413.5 L246.0,412.1 L247.5,410.7 L249.0,409.1 L250.5,407.6 L252.0,405.9 L253.5,404.2 L255.0,402.4 L256.5,400.5 L258.0,398.6 L259.5,396.6 L261.0,394.5 L262.5,392.4 L264.0,390.1 L265.5,387.7 L267.0,385.3 L268.5,382.7 L270.0,380.0 L271.5,377.1 L273.0,374.1 L274.5,371.0 L276.0,367.7 L277.5,364.3 L279.0,360.7 L280.5,357.1 L282.0,353.3 L283.5,349.5 L285.0,345.7 L286.5,341.8 L288.0,337.8 L289.5,333.7 L291.0,329.6 L292.5,325.3 L294.0,320.9 L295.5,316.5 L297.0,311.9 L298.5,307.3 L300.0,302.7 L301.5,298.0 L303.0,293.4 L304.5,288.8 L306.0,284.2 L307.5,279.7 L309.0,275.2 L310.5,270.8 L312.0,266.6 L313.5,262.4 L315.0,258.4 L316.5,254.4 L318.0,250.6 L319.5,247.0 L321.0,243.5 L322.5,240.1 L324.0,236.9 L325.5,233.9 L327.0,231.1 L328.5,228.4 L330.0,225.9 L331.5,223.5 L333.0,221.4 L334.5,219.4 L336.0,217.5 L337.5,215.9 L339.0,214.4 L340.5,213.0 L342.0,211.9 L343.5,210.8 L345.0,210.0 L346.5,209.3 L348.0,208.8 L349.5,208.4 L351.0,208.2 L352.5,208.1 L354.0,208.2 L355.5,208.4 L357.0,208.8 L358.5,209.4 L360.0,210.1 L361.5,210.9 L363.0,211.8 L364.5,212.9 L366.0,214.0 L367.5,215.2 L369.0,216.5 L370.5,217.9 L372.0,219.3 L373.5,220.8 L375.0,222.3 L376.5,223.8 L378.0,225.3 L379.5,226.8 L381.0,228.3 L382.5,229.8 L384.0,231.2 L385.5,232.5 L387.0,233.9 L388.5,235.1 L390.0,236.2 L391.5,237.3 L393.0,238.2 L394.5,239.1 L396.0,239.9 L397.5,240.6 L399.0,241.1 L400.5,241.6 L402.0,242.0 L403.5,242.3 L405.0,242.5 L406.5,242.6 L408.0,242.6 L409.5,242.5 L411.0,242.3 L412.5,242.0 L414.0,241.7 L415.5,241.2 L417.0,240.6 L418.5,239.9 L420.0,239.1 L421.5,238.3 L423.0,237.3 L424.5,236.2 L426.0,235.0 L427.5,233.8 L429.0,232.4 L430.5,231.0 L432.0,229.5 L433.5,227.9 L435.0,226.3 L436.5,224.6 L438.0,222.8 L439.5,221.0 L441.0,219.1 L442.5,217.2 L444.0,215.3 L445.5,213.3 L447.0,211.3 L448.5,209.3 L450.0,207.2 L451.5,205.1 L453.0,203.0 L454.5,200.9 L456.0,198.8 L457.5,196.7 L459.0,194.6 L460.5,192.6 L462.0,190.5 L463.5,188.4 L465.0,186.3 L466.5,184.2 L468.0,182.1 L469.5,180.0 L471.0,177.9 L472.5,175.8 L474.0,173.8 L475.5,171.7 L477.0,169.7 L478.5,167.6 L480.0,165.6 L481.5,163.5 L483.0,161.5 L484.5,159.5 L486.0,157.4 L487.5,155.4 L489.0,153.4 L490.5,151.5 L492.0,149.5 L493.5,147.5 L495.0,145.6 L496.5,143.7 L498.0,141.7 L499.5,139.8 L501.0,138.0 L502.5,136.1 L504.0,134.3 L505.5,132.5 L507.0,130.7 L508.5,128.9 L510.0,127.2 L511.5,125.5 L513.0,123.8 L514.5,122.2 L516.0,120.6 L517.5,119.0 L519.0,117.4 L520.5,115.9 L522.0,114.5 L523.5,113.0 L525.0,111.6 L526.5,110.3 L528.0,109.0 L529.5,107.7 L531.0,106.4 L532.5,105.2 L534.0,104.0 L535.5,102.9 L537.0,101.8 L538.5,100.7 L540.0,99.7 L541.5,98.7 L543.0,97.8 L544.5,96.9 L546.0,96.0 L547.5,95.1 L549.0,94.3 L550.5,93.6 L552.0,92.8 L553.5,92.2 L555.0,91.5 L556.5,90.9 L558.0,90.3 L559.5,89.7 L561.0,89.2 L562.5,88.8 L564.0,88.3 L565.5,87.9 L567.0,87.6 L568.5,87.2 L570.0,86.9 L571.5,86.7 L573.0,86.5 L574.5,86.3 L576.0,86.2 L577.5,86.0 L579.0,86.0 L580.5,85.9 L582.0,85.9 L583.5,86.0 L585.0,86.0 L586.5,86.2 L588.0,86.3 L589.5,86.5 L591.0,86.7 L592.5,87.0 L594.0,87.2 L595.5,87.6 L597.0,87.9 L598.5,88.3 L600.0,88.7 L601.5,89.2 L603.0,89.7 L604.5,90.2 L606.0,90.7 L607.5,91.3 L609.0,91.9 L610.5,92.5 L612.0,93.2 L613.5,93.9 L615.0,94.6 L616.5,95.4 L618.0,96.1 L619.5,96.9 L621.0,97.8 L622.5,98.6 L624.0,99.5 L625.5,100.5 L627.0,101.4 L628.5,102.5 L630.0,103.5 L631.5,104.6 L633.0,105.8 L634.5,107.1 L636.0,108.4 L637.5,109.7 L639.0,111.2 L640.5,112.7 L642.0,114.3 L643.5,116.0 L645.0,117.7 L646.5,119.6 L648.0,121.5 L649.5,123.5 L651.0,125.7" fill="none" stroke="#5fa817" stroke-width="1.8"/>
<path d="M127.5,440.9 L129.0,440.9 L130.5,440.8 L132.0,440.8 L133.5,440.7 L135.0,440.6 L136.5,440.6 L138.0,440.5 L139.5,440.4 L141.0,440.3 L142.5,440.2 L144.0,440.0 L145.5,439.9 L147.0,439.8 L148.5,439.7 L150.0,439.5 L151.5,439.4 L153.0,439.2 L154.5,439.1 L156.0,438.9 L157.5,438.7 L159.0,438.5 L160.5,438.4 L162.0,438.2 L163.5,438.0 L165.0,437.8 L166.5,437.6 L168.0,437.4 L169.5,437.1 L171.0,436.9 L172.5,436.7 L174.0,436.5 L175.5,436.2 L177.0,436.0 L178.5,435.7 L180.0,435.5 L181.5,435.2 L183.0,435.0 L184.5,434.7 L186.0,434.4 L187.5,434.2 L189.0,433.9 L190.5,433.6 L192.0,433.3 L193.5,433.0 L195.0,432.7 L196.5,432.4 L198.0,432.1 L199.5,431.8 L201.0,431.4 L202.5,431.1 L204.0,430.7 L205.5,430.3 L207.0,429.9 L208.5,429.5 L210.0,429.1 L211.5,428.6 L213.0,428.1 L214.5,427.5 L216.0,426.9 L217.5,426.3 L219.0,425.7 L220.5,425.0 L222.0,424.3 L223.5,423.5 L225.0,422.6 L226.5,421.8 L228.0,420.8 L229.5,419.8 L231.0,418.6 L232.5,417.3 L234.0,415.7 L235.5,413.9 L237.0,411.7 L238.5,409.2 L240.0,406.3 L241.5,402.9 L243.0,399.1 L244.5,394.8 L246.0,390.1 L247.5,385.1 L249.0,380.0 L250.5,374.8 L252.0,369.6 L253.5,364.5 L255.0,359.5 L256.5,354.7 L258.0,350.1 L259.5,345.7 L261.0,341.7 L262.5,337.9 L264.0,334.2 L265.5,330.8 L267.0,327.5 L268.5,324.4 L270.0,321.4 L271.5,318.5 L273.0,315.6 L274.5,312.8 L276.0,309.9 L277.5,307.1 L279.0,304.2 L280.5,301.2 L282.0,298.2 L283.5,295.0 L285.0,291.7 L286.5,288.2 L288.0,284.5 L289.5,280.5 L291.0,276.4 L292.5,271.9 L294.0,267.3 L295.5,262.4 L297.0,257.4 L298.5,252.3 L300.0,247.2 L301.5,242.2 L303.0,237.2 L304.5,232.4 L306.0,227.6 L307.5,223.0 L309.0,218.6 L310.5,214.3 L312.0,210.1 L313.5,206.2 L315.0,202.4 L316.5,198.8 L318.0,195.4 L319.5,192.3 L321.0,189.3 L322.5,186.6 L324.0,184.2 L325.5,181.9 L327.0,179.9 L328.5,178.2 L330.0,176.7 L331.5,175.4 L333.0,174.3 L334.5,173.4 L336.0,172.7 L337.5,172.2 L339.0,171.9 L340.5,171.7 L342.0,171.7 L343.5,171.9 L345.0,172.3 L346.5,172.7 L348.0,173.3 L349.5,174.1 L351.0,174.9 L352.5,175.9 L354.0,177.0 L355.5,178.2 L357.0,179.4 L358.5,180.8 L360.0,182.2 L361.5,183.6 L363.0,185.1 L364.5,186.6 L366.0,188.1 L367.5,189.5 L369.0,190.9 L370.5,192.2 L372.0,193.4 L373.5,194.5 L375.0,195.5 L376.5,196.3 L378.0,197.0 L379.5,197.5 L381.0,197.8 L382.5,198.0 L384.0,198.0 L385.5,197.7 L387.0,197.3 L388.5,196.7 L390.0,195.8 L391.5,194.8 L393.0,193.5 L394.5,192.1 L396.0,190.6 L397.5,188.9 L399.0,187.2 L400.5,185.4 L402.0,183.6 L403.5,181.7 L405.0,179.9 L406.5,178.1 L408.0,176.4 L409.5,174.7 L411.0,173.2 L412.5,171.7 L414.0,170.3 L415.5,168.9 L417.0,167.7 L418.5,166.5 L420.0,165.5 L421.5,164.5 L423.0,163.7 L424.5,162.9 L426.0,162.2 L427.5,161.6 L429.0,161.0 L430.5,160.5 L432.0,159.9 L433.5,159.4 L435.0,158.8 L436.5,158.2 L438.0,157.6 L439.5,156.9 L441.0,156.1 L442.5,155.2 L444.0,154.2 L445.5,153.2 L447.0,152.1 L448.5,150.9 L450.0,149.7 L451.5,148.5 L453.0,147.3 L454.5,146.0 L456.0,144.7 L457.5,143.4 L459.0,142.1 L460.5,140.8 L462.0,139.5 L463.5,138.1 L465.0,136.8 L466.5,135.4 L468.0,134.1 L469.5,132.7 L471.0,131.3 L472.5,129.9 L474.0,128.5 L475.5,127.1 L477.0,125.7 L478.5,124.3 L480.0,122.9 L481.5,121.5 L483.0,120.2 L484.5,118.9 L486.0,117.7 L487.5,116.5 L489.0,115.4 L490.5,114.3 L492.0,113.4 L493.5,112.4 L495.0,111.6 L496.5,110.8 L498.0,110.0 L499.5,109.3 L501.0,108.6 L502.5,108.0 L504.0,107.4 L505.5,106.8 L507.0,106.3 L508.5,105.8 L510.0,105.3 L511.5,104.8 L513.0,104.3 L514.5,103.9 L516.0,103.4 L517.5,102.9 L519.0,102.5 L520.5,102.0 L522.0,101.5 L523.5,101.0 L525.0,100.5 L526.5,100.0 L528.0,99.5 L529.5,99.0 L531.0,98.5 L532.5,97.9 L534.0,97.4 L535.5,96.9 L537.0,96.3 L538.5,95.8 L540.0,95.3 L541.5,94.7 L543.0,94.2 L544.5,93.7 L546.0,93.2 L547.5,92.7 L549.0,92.2 L550.5,91.7 L552.0,91.2 L553.5,90.7 L555.0,90.3 L556.5,89.9 L558.0,89.4 L559.5,89.0 L561.0,88.6 L562.5,88.3 L564.0,87.9 L565.5,87.6 L567.0,87.3 L568.5,87.0 L570.0,86.8 L571.5,86.5 L573.0,86.3 L574.5,86.2 L576.0,86.0 L577.5,85.9 L579.0,85.8 L580.5,85.8 L582.0,85.8 L583.5,85.8 L585.0,85.8 L586.5,85.9 L588.0,86.1 L589.5,86.2 L591.0,86.4 L592.5,86.7 L594.0,87.0 L595.5,87.3 L597.0,87.6 L598.5,88.0 L600.0,88.4 L601.5,88.8 L603.0,89.3 L604.5,89.8 L606.0,90.3 L607.5,90.8 L609.0,91.4 L610.5,92.0 L612.0,92.6 L613.5,93.2 L615.0,93.9 L616.5,94.6 L618.0,95.3 L619.5,96.0 L621.0,96.7 L622.5,97.5 L624.0,98.3 L625.5,99.1 L627.0,99.9 L628.5,100.7 L630.0,101.5 L631.5,102.3 L633.0,103.2 L634.5,104.0 L636.0,104.9 L637.5,105.8 L639.0,106.6 L640.5,107.5 L642.0,108.4 L643.5,109.3 L645.0,110.2 L646.5,111.1 L648.0,112.0 L649.5,112.9 L651.0,113.8" fill="none" stroke="#c0c0c0" stroke-width="4.6" stroke-linejoin="round"/>
<path d="M127.5,440.9 L129.0,440.9 L130.5,440.8 L132.0,440.8 L133.5,440.7 L135.0,440.6 L136.5,440.6 L138.0,440.5 L139.5,440.4 L141.0,440.3 L142.5,440.2 L144.0,440.0 L145.5,439.9 L147.0,439.8 L148.5,439.7 L150.0,439.5 L151.5,439.4 L153.0,439.2 L154.5,439.1 L156.0,438.9 L157.5,438.7 L159.0,438.5 L160.5,438.4 L162.0,438.2 L163.5,438.0 L165.0,437.8 L166.5,437.6 L168.0,437.4 L169.5,437.1 L171.0,436.9 L172.5,436.7 L174.0,436.5 L175.5,436.2 L177.0,436.0 L178.5,435.7 L180.0,435.5 L181.5,435.2 L183.0,435.0 L184.5,434.7 L186.0,434.4 L187.5,434.2 L189.0,433.9 L190.5,433.6 L192.0,433.3 L193.5,433.0 L195.0,432.7 L196.5,432.4 L198.0,432.1 L199.5,431.8 L201.0,431.4 L202.5,431.1 L204.0,430.7 L205.5,430.3 L207.0,429.9 L208.5,429.5 L210.0,429.1 L211.5,428.6 L213.0,428.1 L214.5,427.5 L216.0,426.9 L217.5,426.3 L219.0,425.7 L220.5,425.0 L222.0,424.3 L223.5,423.5 L225.0,422.6 L226.5,421.8 L228.0,420.8 L229.5,419.8 L231.0,418.6 L232.5,417.3 L234.0,415.7 L235.5,413.9 L237.0,411.7 L238.5,409.2 L240.0,406.3 L241.5,402.9 L243.0,399.1 L244.5,394.8 L246.0,390.1 L247.5,385.1 L249.0,380.0 L250.5,374.8 L252.0,369.6 L253.5,364.5 L255.0,359.5 L256.5,354.7 L258.0,350.1 L259.5,345.7 L261.0,341.7 L262.5,337.9 L264.0,334.2 L265.5,330.8 L267.0,327.5 L268.5,324.4 L270.0,321.4 L271.5,318.5 L273.0,315.6 L274.5,312.8 L276.0,309.9 L277.5,307.1 L279.0,304.2 L280.5,301.2 L282.0,298.2 L283.5,295.0 L285.0,291.7 L286.5,288.2 L288.0,284.5 L289.5,280.5 L291.0,276.4 L292.5,271.9 L294.0,267.3 L295.5,262.4 L297.0,257.4 L298.5,252.3 L300.0,247.2 L301.5,242.2 L303.0,237.2 L304.5,232.4 L306.0,227.6 L307.5,223.0 L309.0,218.6 L310.5,214.3 L312.0,210.1 L313.5,206.2 L315.0,202.4 L316.5,198.8 L318.0,195.4 L319.5,192.3 L321.0,189.3 L322.5,186.6 L324.0,184.2 L325.5,181.9 L327.0,179.9 L328.5,178.2 L330.0,176.7 L331.5,175.4 L333.0,174.3 L334.5,173.4 L336.0,172.7 L337.5,172.2 L339.0,171.9 L340.5,171.7 L342.0,171.7 L343.5,171.9 L345.0,172.3 L346.5,172.7 L348.0,173.3 L349.5,174.1 L351.0,174.9 L352.5,175.9 L354.0,177.0 L355.5,178.2 L357.0,179.4 L358.5,180.8 L360.0,182.2 L361.5,183.6 L363.0,185.1 L364.5,186.6 L366.0,188.1 L367.5,189.5 L369.0,190.9 L370.5,192.2 L372.0,193.4 L373.5,194.5 L375.0,195.5 L376.5,196.3 L378.0,197.0 L379.5,197.5 L381.0,197.8 L382.5,198.0 L384.0,198.0 L385.5,197.7 L387.0,197.3 L388.5,196.7 L390.0,195.8 L391.5,194.8 L393.0,193.5 L394.5,192.1 L396.0,190.6 L397.5,188.9 L399.0,187.2 L400.5,185.4 L402.0,183.6 L403.5,181.7 L405.0,179.9 L406.5,178.1 L408.0,176.4 L409.5,174.7 L411.0,173.2 L412.5,171.7 L414.0,170.3 L415.5,168.9 L417.0,167.7 L418.5,166.5 L420.0,165.5 L421.5,164.5 L423.0,163.7 L424.5,162.9 L426.0,162.2 L427.5,161.6 L429.0,161.0 L430.5,160.5 L432.0,159.9 L433.5,159.4 L435.0,158.8 L436.5,158.2 L438.0,157.6 L439.5,156.9 L441.0,156.1 L442.5,155.2 L444.0,154.2 L445.5,153.2 L447.0,152.1 L448.5,150.9 L450.0,149.7 L451.5,148.5 L453.0,147.3 L454.5,146.0 L456.0,144.7 L457.5,143.4 L459.0,142.1 L460.5,140.8 L462.0,139.5 L463.5,138.1 L465.0,136.8 L466.5,135.4 L468.0,134.1 L469.5,132.7 L471.0,131.3 L472.5,129.9 L474.0,128.5 L475.5,127.1 L477.0,125.7 L478.5,124.3 L480.0,122.9 L481.5,121.5 L483.0,120.2 L484.5,118.9 L486.0,117.7 L487.5,116.5 L489.0,115.4 L490.5,114.3 L492.0,113.4 L493.5,112.4 L495.0,111.6 L496.5,110.8 L498.0,110.0 L499.5,109.3 L501.0,108.6 L502.5,108.0 L504.0,107.4 L505.5,106.8 L507.0,106.3 L508.5,105.8 L510.0,105.3 L511.5,104.8 L513.0,104.3 L514.5,103.9 L516.0,103.4 L517.5,102.9 L519.0,102.5 L520.5,102.0 L522.0,101.5 L523.5,101.0 L525.0,100.5 L526.5,100.0 L528.0,99.5 L529.5,99.0 L531.0,98.5 L532.5,97.9 L534.0,97.4 L535.5,96.9 L537.0,96.3 L538.5,95.8 L540.0,95.3 L541.5,94.7 L543.0,94.2 L544.5,93.7 L546.0,93.2 L547.5,92.7 L549.0,92.2 L550.5,91.7 L552.0,91.2 L553.5,90.7 L555.0,90.3 L556.5,89.9 L558.0,89.4 L559.5,89.0 L561.0,88.6 L562.5,88.3 L564.0,87.9 L565.5,87.6 L567.0,87.3 L568.5,87.0 L570.0,86.8 L571.5,86.5 L573.0,86.3 L574.5,86.2 L576.0,86.0 L577.5,85.9 L579.0,85.8 L580.5,85.8 L582.0,85.8 L583.5,85.8 L585.0,85.8 L586.5,85.9 L588.0,86.1 L589.5,86.2 L591.0,86.4 L592.5,86.7 L594.0,87.0 L595.5,87.3 L597.0,87.6 L598.5,88.0 L600.0,88.4 L601.5,88.8 L603.0,89.3 L604.5,89.8 L606.0,90.3 L607.5,90.8 L609.0,91.4 L610.5,92.0 L612.0,92.6 L613.5,93.2 L615.0,93.9 L616.5,94.6 L618.0,95.3 L619.5,96.0 L621.0,96.7 L622.5,97.5 L624.0,98.3 L625.5,99.1 L627.0,99.9 L628.5,100.7 L630.0,101.5 L631.5,102.3 L633.0,103.2 L634.5,104.0 L636.0,104.9 L637.5,105.8 L639.0,106.6 L640.5,107.5 L642.0,108.4 L643.5,109.3 L645.0,110.2 L646.5,111.1 L648.0,112.0 L649.5,112.9 L651.0,113.8" fill="none" stroke="#262626" stroke-width="3.6" stroke-dasharray="15,24" stroke-dashoffset="6" stroke-linecap="round"/>
</g>
<rect x="127.5" y="56.4" width="524.0" height="426.20000000000005" fill="none" stroke="#000" stroke-width="2"/>
<line x1="119.5" y1="443.9" x2="127.5" y2="443.9" stroke="#000" stroke-width="1.8"/>
<text x="112.0" y="452.7" font-size="28.4" text-anchor="end" fill="#000" >0.00</text>
<line x1="123.0" y1="405.1" x2="127.5" y2="405.1" stroke="#000" stroke-width="1.8"/>
<line x1="119.5" y1="366.4" x2="127.5" y2="366.4" stroke="#000" stroke-width="1.8"/>
<text x="112.0" y="375.2" font-size="28.4" text-anchor="end" fill="#000" >0.05</text>
<line x1="123.0" y1="327.6" x2="127.5" y2="327.6" stroke="#000" stroke-width="1.8"/>
<line x1="119.5" y1="288.9" x2="127.5" y2="288.9" stroke="#000" stroke-width="1.8"/>
<text x="112.0" y="297.7" font-size="28.4" text-anchor="end" fill="#000" >0.10</text>
<line x1="123.0" y1="250.1" x2="127.5" y2="250.1" stroke="#000" stroke-width="1.8"/>
<line x1="119.5" y1="211.4" x2="127.5" y2="211.4" stroke="#000" stroke-width="1.8"/>
<text x="112.0" y="220.2" font-size="28.4" text-anchor="end" fill="#000" >0.15</text>
<line x1="123.0" y1="172.6" x2="127.5" y2="172.6" stroke="#000" stroke-width="1.8"/>
<line x1="119.5" y1="133.9" x2="127.5" y2="133.9" stroke="#000" stroke-width="1.8"/>
<text x="112.0" y="142.7" font-size="28.4" text-anchor="end" fill="#000" >0.20</text>
<line x1="123.0" y1="95.1" x2="127.5" y2="95.1" stroke="#000" stroke-width="1.8"/>
<line x1="119.5" y1="56.4" x2="127.5" y2="56.4" stroke="#000" stroke-width="1.8"/>
<text x="112.0" y="65.2" font-size="28.4" text-anchor="end" fill="#000" >0.25</text>
<line x1="123.0" y1="482.6" x2="127.5" y2="482.6" stroke="#000" stroke-width="1.8"/>
<line x1="127.5" y1="482.6" x2="127.5" y2="490.6" stroke="#000" stroke-width="1.8"/>
<text x="127.5" y="519.0" font-size="28" text-anchor="middle" fill="#000" >1</text>
<line x1="177.8" y1="482.6" x2="177.8" y2="487.1" stroke="#000" stroke-width="1.8"/>
<line x1="228.1" y1="482.6" x2="228.1" y2="490.6" stroke="#000" stroke-width="1.8"/>
<text x="228.1" y="519.0" font-size="28" text-anchor="middle" fill="#000" >2</text>
<line x1="278.4" y1="482.6" x2="278.4" y2="487.1" stroke="#000" stroke-width="1.8"/>
<line x1="328.7" y1="482.6" x2="328.7" y2="490.6" stroke="#000" stroke-width="1.8"/>
<text x="328.7" y="519.0" font-size="28" text-anchor="middle" fill="#000" >3</text>
<line x1="379.0" y1="482.6" x2="379.0" y2="487.1" stroke="#000" stroke-width="1.8"/>
<line x1="429.3" y1="482.6" x2="429.3" y2="490.6" stroke="#000" stroke-width="1.8"/>
<text x="429.3" y="519.0" font-size="28" text-anchor="middle" fill="#000" >4</text>
<line x1="479.6" y1="482.6" x2="479.6" y2="487.1" stroke="#000" stroke-width="1.8"/>
<line x1="529.9" y1="482.6" x2="529.9" y2="490.6" stroke="#000" stroke-width="1.8"/>
<text x="529.9" y="519.0" font-size="28" text-anchor="middle" fill="#000" >5</text>
<line x1="580.2" y1="482.6" x2="580.2" y2="487.1" stroke="#000" stroke-width="1.8"/>
<line x1="630.5" y1="482.6" x2="630.5" y2="490.6" stroke="#000" stroke-width="1.8"/>
<text x="630.5" y="519.0" font-size="28" text-anchor="middle" fill="#000" >6</text>
<text x="389.0" y="566.7" font-size="32" text-anchor="middle" fill="#000" >Photon Energy (eV)</text>
<text transform="translate(33,258) rotate(-90)" font-size="32" text-anchor="middle">Absorbance (a.u.)</text>
<line x1="135" y1="78.5" x2="184" y2="78.5" stroke="#bfbfbf" stroke-width="4"/>
<line x1="135" y1="105.4" x2="155" y2="105.4" stroke="#333" stroke-width="5" stroke-linecap="round"/>
<line x1="175" y1="105.4" x2="186" y2="105.4" stroke="#333" stroke-width="5" stroke-linecap="round"/>
<line x1="135" y1="132.7" x2="184" y2="132.7" stroke="#2b86f0" stroke-width="1.8"/>
<line x1="135" y1="160" x2="184" y2="160" stroke="#45a020" stroke-width="1.8"/>
<text x="190.0" y="86.5" font-size="22" text-anchor="start" fill="#000" >Abs</text>
<text x="190.0" y="113.5" font-size="22" text-anchor="start" fill="#000" >Fit</text>
<text x="190.0" y="140.5" font-size="22" text-anchor="start" fill="#000" >MMT</text>
<text x="190.0" y="168.0" font-size="22" text-anchor="start" fill="#000" >LMCT</text>
<text x="-2.0" y="41.0" font-size="54" text-anchor="start" fill="#000" >(a)</text>
<defs><linearGradient id="gb_bg" x1="798" y1="0" x2="1322" y2="0" gradientUnits="userSpaceOnUse">
<stop offset="0" stop-color="#fdebdd"/><stop offset="0.04" stop-color="#fdeee3"/><stop offset="0.12" stop-color="#fef3eb"/><stop offset="0.18" stop-color="#fef7f3"/><stop offset="0.225" stop-color="#fefcfb"/><stop offset="0.245" stop-color="#ffffff"/><stop offset="0.3" stop-color="#fafcfe"/><stop offset="0.4" stop-color="#f2f6fb"/><stop offset="0.6" stop-color="#eef3f9"/><stop offset="0.8" stop-color="#eaf0f8"/><stop offset="1" stop-color="#e4ecf7"/></linearGradient></defs>
<rect x="798" y="60" width="524" height="421" fill="url(#gb_bg)"/>
<line x1="845.5" y1="392.6" x2="845.5" y2="450.4" stroke="#cc0000" stroke-width="2.2"/>
<line x1="842.1" y1="392.6" x2="848.9" y2="392.6" stroke="#cc0000" stroke-width="2.2"/>
<line x1="842.1" y1="450.4" x2="848.9" y2="450.4" stroke="#cc0000" stroke-width="2.2"/>
<line x1="864.6" y1="335.9" x2="864.6" y2="381.7" stroke="#cc0000" stroke-width="2.2"/>
<line x1="861.2" y1="335.9" x2="868.0" y2="335.9" stroke="#cc0000" stroke-width="2.2"/>
<line x1="861.2" y1="381.7" x2="868.0" y2="381.7" stroke="#cc0000" stroke-width="2.2"/>
<line x1="883.6" y1="280.5" x2="883.6" y2="311.8" stroke="#cc0000" stroke-width="2.2"/>
<line x1="880.2" y1="280.5" x2="887.0" y2="280.5" stroke="#cc0000" stroke-width="2.2"/>
<line x1="880.2" y1="311.8" x2="887.0" y2="311.8" stroke="#cc0000" stroke-width="2.2"/>
<line x1="902.7" y1="253.9" x2="902.7" y2="286.4" stroke="#cc0000" stroke-width="2.2"/>
<line x1="899.3" y1="253.9" x2="906.1" y2="253.9" stroke="#cc0000" stroke-width="2.2"/>
<line x1="899.3" y1="286.4" x2="906.1" y2="286.4" stroke="#cc0000" stroke-width="2.2"/>
<line x1="917.0" y1="195.0" x2="917.0" y2="228.7" stroke="#cc0000" stroke-width="2.2"/>
<line x1="913.6" y1="195.0" x2="920.4" y2="195.0" stroke="#cc0000" stroke-width="2.2"/>
<line x1="913.6" y1="228.7" x2="920.4" y2="228.7" stroke="#cc0000" stroke-width="2.2"/>
<line x1="940.8" y1="151.9" x2="940.8" y2="180.9" stroke="#cc0000" stroke-width="2.2"/>
<line x1="937.4" y1="151.9" x2="944.2" y2="151.9" stroke="#cc0000" stroke-width="2.2"/>
<line x1="937.4" y1="180.9" x2="944.2" y2="180.9" stroke="#cc0000" stroke-width="2.2"/>
<line x1="988.5" y1="188.9" x2="988.5" y2="220.3" stroke="#cc0000" stroke-width="2.2"/>
<line x1="985.1" y1="188.9" x2="991.9" y2="188.9" stroke="#cc0000" stroke-width="2.2"/>
<line x1="985.1" y1="220.3" x2="991.9" y2="220.3" stroke="#cc0000" stroke-width="2.2"/>
<line x1="1036.1" y1="145.6" x2="1036.1" y2="172.1" stroke="#cc0000" stroke-width="2.2"/>
<line x1="1032.7" y1="145.6" x2="1039.5" y2="145.6" stroke="#cc0000" stroke-width="2.2"/>
<line x1="1032.7" y1="172.1" x2="1039.5" y2="172.1" stroke="#cc0000" stroke-width="2.2"/>
<line x1="1083.8" y1="160.6" x2="1083.8" y2="191.9" stroke="#cc0000" stroke-width="2.2"/>
<line x1="1080.3" y1="160.6" x2="1087.2" y2="160.6" stroke="#cc0000" stroke-width="2.2"/>
<line x1="1080.3" y1="191.9" x2="1087.2" y2="191.9" stroke="#cc0000" stroke-width="2.2"/>
<line x1="1131.4" y1="177.5" x2="1131.4" y2="210.0" stroke="#cc0000" stroke-width="2.2"/>
<line x1="1128.0" y1="177.5" x2="1134.8" y2="177.5" stroke="#cc0000" stroke-width="2.2"/>
<line x1="1128.0" y1="210.0" x2="1134.8" y2="210.0" stroke="#cc0000" stroke-width="2.2"/>
<line x1="1226.7" y1="120.7" x2="1226.7" y2="166.5" stroke="#cc0000" stroke-width="2.2"/>
<line x1="1223.3" y1="120.7" x2="1230.1" y2="120.7" stroke="#cc0000" stroke-width="2.2"/>
<line x1="1223.3" y1="166.5" x2="1230.1" y2="166.5" stroke="#cc0000" stroke-width="2.2"/>
<circle cx="845.5" cy="421.5" r="7.0" fill="#fcc8c0" stroke="#cc0000" stroke-width="2.8"/>
<circle cx="864.6" cy="358.8" r="7.0" fill="#fcc8c0" stroke="#cc0000" stroke-width="2.8"/>
<circle cx="883.6" cy="296.2" r="7.0" fill="#fcc8c0" stroke="#cc0000" stroke-width="2.8"/>
<circle cx="902.7" cy="270.2" r="7.0" fill="#fcc8c0" stroke="#cc0000" stroke-width="2.8"/>
<circle cx="917.0" cy="211.8" r="7.0" fill="#fcc8c0" stroke="#cc0000" stroke-width="2.8"/>
<circle cx="940.8" cy="166.4" r="7.0" fill="#fcc8c0" stroke="#cc0000" stroke-width="2.8"/>
<circle cx="988.5" cy="204.6" r="7.0" fill="#fcc8c0" stroke="#cc0000" stroke-width="2.8"/>
<circle cx="1036.1" cy="158.8" r="7.0" fill="#fcc8c0" stroke="#cc0000" stroke-width="2.8"/>
<circle cx="1083.8" cy="176.3" r="7.0" fill="#fcc8c0" stroke="#cc0000" stroke-width="2.8"/>
<circle cx="1131.4" cy="193.8" r="7.0" fill="#fcc8c0" stroke="#cc0000" stroke-width="2.8"/>
<circle cx="1226.7" cy="143.6" r="7.0" fill="#fcc8c0" stroke="#cc0000" stroke-width="2.8"/>
<line x1="845.5" y1="417.9" x2="845.5" y2="425.1" stroke="#2ca02c" stroke-width="2.2"/>
<line x1="842.1" y1="417.9" x2="848.9" y2="417.9" stroke="#2ca02c" stroke-width="2.2"/>
<line x1="842.1" y1="425.1" x2="848.9" y2="425.1" stroke="#2ca02c" stroke-width="2.2"/>
<line x1="869.3" y1="392.6" x2="869.3" y2="402.2" stroke="#2ca02c" stroke-width="2.2"/>
<line x1="865.9" y1="392.6" x2="872.7" y2="392.6" stroke="#2ca02c" stroke-width="2.2"/>
<line x1="865.9" y1="402.2" x2="872.7" y2="402.2" stroke="#2ca02c" stroke-width="2.2"/>
<line x1="893.1" y1="368.5" x2="893.1" y2="375.7" stroke="#2ca02c" stroke-width="2.2"/>
<line x1="889.8" y1="368.5" x2="896.5" y2="368.5" stroke="#2ca02c" stroke-width="2.2"/>
<line x1="889.8" y1="375.7" x2="896.5" y2="375.7" stroke="#2ca02c" stroke-width="2.2"/>
<line x1="917.0" y1="343.2" x2="917.0" y2="352.8" stroke="#2ca02c" stroke-width="2.2"/>
<line x1="913.6" y1="343.2" x2="920.4" y2="343.2" stroke="#2ca02c" stroke-width="2.2"/>
<line x1="913.6" y1="352.8" x2="920.4" y2="352.8" stroke="#2ca02c" stroke-width="2.2"/>
<line x1="940.8" y1="323.9" x2="940.8" y2="331.1" stroke="#2ca02c" stroke-width="2.2"/>
<line x1="937.4" y1="323.9" x2="944.2" y2="323.9" stroke="#2ca02c" stroke-width="2.2"/>
<line x1="937.4" y1="331.1" x2="944.2" y2="331.1" stroke="#2ca02c" stroke-width="2.2"/>
<line x1="988.5" y1="317.1" x2="988.5" y2="324.4" stroke="#2ca02c" stroke-width="2.2"/>
<line x1="985.1" y1="317.1" x2="991.9" y2="317.1" stroke="#2ca02c" stroke-width="2.2"/>
<line x1="985.1" y1="324.4" x2="991.9" y2="324.4" stroke="#2ca02c" stroke-width="2.2"/>
<line x1="1131.4" y1="320.9" x2="1131.4" y2="337.8" stroke="#2ca02c" stroke-width="2.2"/>
<line x1="1128.0" y1="320.9" x2="1134.8" y2="320.9" stroke="#2ca02c" stroke-width="2.2"/>
<line x1="1128.0" y1="337.8" x2="1134.8" y2="337.8" stroke="#2ca02c" stroke-width="2.2"/>
<line x1="1226.7" y1="301.0" x2="1226.7" y2="315.5" stroke="#2ca02c" stroke-width="2.2"/>
<line x1="1223.3" y1="301.0" x2="1230.1" y2="301.0" stroke="#2ca02c" stroke-width="2.2"/>
<line x1="1223.3" y1="315.5" x2="1230.1" y2="315.5" stroke="#2ca02c" stroke-width="2.2"/>
<line x1="1274.3" y1="303.9" x2="1274.3" y2="325.6" stroke="#2ca02c" stroke-width="2.2"/>
<line x1="1270.9" y1="303.9" x2="1277.8" y2="303.9" stroke="#2ca02c" stroke-width="2.2"/>
<line x1="1270.9" y1="325.6" x2="1277.8" y2="325.6" stroke="#2ca02c" stroke-width="2.2"/>
<circle cx="845.5" cy="421.5" r="7.0" fill="#d3ecc4" stroke="#2ca02c" stroke-width="2.8"/>
<circle cx="869.3" cy="397.4" r="7.0" fill="#d3ecc4" stroke="#2ca02c" stroke-width="2.8"/>
<circle cx="893.1" cy="372.1" r="7.0" fill="#d3ecc4" stroke="#2ca02c" stroke-width="2.8"/>
<circle cx="917.0" cy="348.0" r="7.0" fill="#d3ecc4" stroke="#2ca02c" stroke-width="2.8"/>
<circle cx="940.8" cy="327.5" r="7.0" fill="#d3ecc4" stroke="#2ca02c" stroke-width="2.8"/>
<circle cx="988.5" cy="320.8" r="7.0" fill="#d3ecc4" stroke="#2ca02c" stroke-width="2.8"/>
<circle cx="1131.4" cy="329.3" r="7.0" fill="#d3ecc4" stroke="#2ca02c" stroke-width="2.8"/>
<circle cx="1226.7" cy="308.2" r="7.0" fill="#d3ecc4" stroke="#2ca02c" stroke-width="2.8"/>
<circle cx="1274.3" cy="314.7" r="7.0" fill="#d3ecc4" stroke="#2ca02c" stroke-width="2.8"/>
<circle cx="845.5" cy="421.5" r="7.0" fill="#bcdcf2" stroke="#2477b8" stroke-width="2.8"/>
<circle cx="855.0" cy="417.9" r="7.0" fill="#bcdcf2" stroke="#2477b8" stroke-width="2.8"/>
<circle cx="864.6" cy="414.3" r="7.0" fill="#bcdcf2" stroke="#2477b8" stroke-width="2.8"/>
<circle cx="869.3" cy="412.3" r="7.0" fill="#bcdcf2" stroke="#2477b8" stroke-width="2.8"/>
<circle cx="883.6" cy="409.4" r="7.0" fill="#bcdcf2" stroke="#2477b8" stroke-width="2.8"/>
<circle cx="893.1" cy="407.3" r="7.0" fill="#bcdcf2" stroke="#2477b8" stroke-width="2.8"/>
<circle cx="902.7" cy="406.4" r="7.0" fill="#bcdcf2" stroke="#2477b8" stroke-width="2.8"/>
<circle cx="917.0" cy="402.8" r="7.0" fill="#bcdcf2" stroke="#2477b8" stroke-width="2.8"/>
<circle cx="940.8" cy="401.0" r="7.0" fill="#bcdcf2" stroke="#2477b8" stroke-width="2.8"/>
<circle cx="964.6" cy="402.2" r="7.0" fill="#bcdcf2" stroke="#2477b8" stroke-width="2.8"/>
<circle cx="988.5" cy="401.6" r="7.0" fill="#bcdcf2" stroke="#2477b8" stroke-width="2.8"/>
<circle cx="1036.1" cy="399.8" r="7.0" fill="#bcdcf2" stroke="#2477b8" stroke-width="2.8"/>
<circle cx="1131.4" cy="401.6" r="7.0" fill="#bcdcf2" stroke="#2477b8" stroke-width="2.8"/>
<circle cx="1179.0" cy="401.0" r="7.0" fill="#bcdcf2" stroke="#2477b8" stroke-width="2.8"/>
<circle cx="1274.3" cy="398.6" r="7.0" fill="#bcdcf2" stroke="#2477b8" stroke-width="2.8"/>
<line x1="845.5" y1="418.5" x2="845.5" y2="424.5" stroke="#2477b8" stroke-width="2.2"/>
<line x1="842.1" y1="418.5" x2="848.9" y2="418.5" stroke="#2477b8" stroke-width="2.2"/>
<line x1="842.1" y1="424.5" x2="848.9" y2="424.5" stroke="#2477b8" stroke-width="2.2"/>
<line x1="855.0" y1="414.9" x2="855.0" y2="420.9" stroke="#2477b8" stroke-width="2.2"/>
<line x1="851.6" y1="414.9" x2="858.4" y2="414.9" stroke="#2477b8" stroke-width="2.2"/>
<line x1="851.6" y1="420.9" x2="858.4" y2="420.9" stroke="#2477b8" stroke-width="2.2"/>
<line x1="864.6" y1="411.3" x2="864.6" y2="417.3" stroke="#2477b8" stroke-width="2.2"/>
<line x1="861.2" y1="411.3" x2="868.0" y2="411.3" stroke="#2477b8" stroke-width="2.2"/>
<line x1="861.2" y1="417.3" x2="868.0" y2="417.3" stroke="#2477b8" stroke-width="2.2"/>
<line x1="869.3" y1="409.3" x2="869.3" y2="415.4" stroke="#2477b8" stroke-width="2.2"/>
<line x1="865.9" y1="409.3" x2="872.7" y2="409.3" stroke="#2477b8" stroke-width="2.2"/>
<line x1="865.9" y1="415.4" x2="872.7" y2="415.4" stroke="#2477b8" stroke-width="2.2"/>
<line x1="883.6" y1="406.4" x2="883.6" y2="412.5" stroke="#2477b8" stroke-width="2.2"/>
<line x1="880.2" y1="406.4" x2="887.0" y2="406.4" stroke="#2477b8" stroke-width="2.2"/>
<line x1="880.2" y1="412.5" x2="887.0" y2="412.5" stroke="#2477b8" stroke-width="2.2"/>
<line x1="893.1" y1="404.3" x2="893.1" y2="410.3" stroke="#2477b8" stroke-width="2.2"/>
<line x1="889.8" y1="404.3" x2="896.5" y2="404.3" stroke="#2477b8" stroke-width="2.2"/>
<line x1="889.8" y1="410.3" x2="896.5" y2="410.3" stroke="#2477b8" stroke-width="2.2"/>
<line x1="902.7" y1="403.4" x2="902.7" y2="409.4" stroke="#2477b8" stroke-width="2.2"/>
<line x1="899.3" y1="403.4" x2="906.1" y2="403.4" stroke="#2477b8" stroke-width="2.2"/>
<line x1="899.3" y1="409.4" x2="906.1" y2="409.4" stroke="#2477b8" stroke-width="2.2"/>
<line x1="917.0" y1="399.8" x2="917.0" y2="405.8" stroke="#2477b8" stroke-width="2.2"/>
<line x1="913.6" y1="399.8" x2="920.4" y2="399.8" stroke="#2477b8" stroke-width="2.2"/>
<line x1="913.6" y1="405.8" x2="920.4" y2="405.8" stroke="#2477b8" stroke-width="2.2"/>
<line x1="940.8" y1="398.0" x2="940.8" y2="404.0" stroke="#2477b8" stroke-width="2.2"/>
<line x1="937.4" y1="398.0" x2="944.2" y2="398.0" stroke="#2477b8" stroke-width="2.2"/>
<line x1="937.4" y1="404.0" x2="944.2" y2="404.0" stroke="#2477b8" stroke-width="2.2"/>
<line x1="964.6" y1="399.2" x2="964.6" y2="405.2" stroke="#2477b8" stroke-width="2.2"/>
<line x1="961.2" y1="399.2" x2="968.0" y2="399.2" stroke="#2477b8" stroke-width="2.2"/>
<line x1="961.2" y1="405.2" x2="968.0" y2="405.2" stroke="#2477b8" stroke-width="2.2"/>
<line x1="988.5" y1="398.6" x2="988.5" y2="404.6" stroke="#2477b8" stroke-width="2.2"/>
<line x1="985.1" y1="398.6" x2="991.9" y2="398.6" stroke="#2477b8" stroke-width="2.2"/>
<line x1="985.1" y1="404.6" x2="991.9" y2="404.6" stroke="#2477b8" stroke-width="2.2"/>
<line x1="1036.1" y1="396.8" x2="1036.1" y2="402.8" stroke="#2477b8" stroke-width="2.2"/>
<line x1="1032.7" y1="396.8" x2="1039.5" y2="396.8" stroke="#2477b8" stroke-width="2.2"/>
<line x1="1032.7" y1="402.8" x2="1039.5" y2="402.8" stroke="#2477b8" stroke-width="2.2"/>
<line x1="1131.4" y1="398.6" x2="1131.4" y2="404.6" stroke="#2477b8" stroke-width="2.2"/>
<line x1="1128.0" y1="398.6" x2="1134.8" y2="398.6" stroke="#2477b8" stroke-width="2.2"/>
<line x1="1128.0" y1="404.6" x2="1134.8" y2="404.6" stroke="#2477b8" stroke-width="2.2"/>
<line x1="1179.0" y1="398.0" x2="1179.0" y2="404.0" stroke="#2477b8" stroke-width="2.2"/>
<line x1="1175.6" y1="398.0" x2="1182.5" y2="398.0" stroke="#2477b8" stroke-width="2.2"/>
<line x1="1175.6" y1="404.0" x2="1182.5" y2="404.0" stroke="#2477b8" stroke-width="2.2"/>
<line x1="1274.3" y1="395.6" x2="1274.3" y2="401.6" stroke="#2477b8" stroke-width="2.2"/>
<line x1="1270.9" y1="395.6" x2="1277.8" y2="395.6" stroke="#2477b8" stroke-width="2.2"/>
<line x1="1270.9" y1="401.6" x2="1277.8" y2="401.6" stroke="#2477b8" stroke-width="2.2"/>
<line x1="845.5" y1="392.6" x2="845.5" y2="450.4" stroke="#cc0000" stroke-width="2.2"/>
<line x1="842.1" y1="392.6" x2="848.9" y2="392.6" stroke="#cc0000" stroke-width="2.2"/>
<line x1="842.1" y1="450.4" x2="848.9" y2="450.4" stroke="#cc0000" stroke-width="2.2"/>
<line x1="845.5" y1="398.8" x2="941.8" y2="165" stroke="#ee2a2a" stroke-width="1.6" stroke-dasharray="5,3.5"/>
<line x1="845.5" y1="421.5" x2="940.8" y2="326.3" stroke="#3a9a3a" stroke-width="1.6" stroke-dasharray="5,3.5"/>
<rect x="798" y="60" width="524" height="421" fill="none" stroke="#000" stroke-width="2"/>
<line x1="793.5" y1="481.8" x2="798" y2="481.8" stroke="#000" stroke-width="1.8"/>
<line x1="790" y1="421.5" x2="798" y2="421.5" stroke="#000" stroke-width="1.8"/>
<text x="783.0" y="430.3" font-size="28.4" text-anchor="end" fill="#000" >0.0</text>
<line x1="793.5" y1="361.2" x2="798" y2="361.2" stroke="#000" stroke-width="1.8"/>
<line x1="790" y1="301.0" x2="798" y2="301.0" stroke="#000" stroke-width="1.8"/>
<text x="783.0" y="309.8" font-size="28.4" text-anchor="end" fill="#000" >0.1</text>
<line x1="793.5" y1="240.7" x2="798" y2="240.7" stroke="#000" stroke-width="1.8"/>
<line x1="790" y1="180.5" x2="798" y2="180.5" stroke="#000" stroke-width="1.8"/>
<text x="783.0" y="189.3" font-size="28.4" text-anchor="end" fill="#000" >0.2</text>
<line x1="793.5" y1="120.2" x2="798" y2="120.2" stroke="#000" stroke-width="1.8"/>
<line x1="790" y1="60.0" x2="798" y2="60.0" stroke="#000" stroke-width="1.8"/>
<text x="783.0" y="68.8" font-size="28.4" text-anchor="end" fill="#000" >0.3</text>
<line x1="797.9" y1="481" x2="797.9" y2="485.5" stroke="#000" stroke-width="1.8"/>
<line x1="845.5" y1="481" x2="845.5" y2="489" stroke="#000" stroke-width="1.8"/>
<text x="845.5" y="518.0" font-size="28" text-anchor="middle" fill="#000" >0</text>
<line x1="893.1" y1="481" x2="893.1" y2="485.5" stroke="#000" stroke-width="1.8"/>
<line x1="940.8" y1="481" x2="940.8" y2="489" stroke="#000" stroke-width="1.8"/>
<text x="940.8" y="518.0" font-size="28" text-anchor="middle" fill="#000" >2</text>
<line x1="988.5" y1="481" x2="988.5" y2="485.5" stroke="#000" stroke-width="1.8"/>
<line x1="1036.1" y1="481" x2="1036.1" y2="489" stroke="#000" stroke-width="1.8"/>
<text x="1036.1" y="518.0" font-size="28" text-anchor="middle" fill="#000" >4</text>
<line x1="1083.8" y1="481" x2="1083.8" y2="485.5" stroke="#000" stroke-width="1.8"/>
<line x1="1131.4" y1="481" x2="1131.4" y2="489" stroke="#000" stroke-width="1.8"/>
<text x="1131.4" y="518.0" font-size="28" text-anchor="middle" fill="#000" >6</text>
<line x1="1179.0" y1="481" x2="1179.0" y2="485.5" stroke="#000" stroke-width="1.8"/>
<line x1="1226.7" y1="481" x2="1226.7" y2="489" stroke="#000" stroke-width="1.8"/>
<text x="1226.7" y="518.0" font-size="28" text-anchor="middle" fill="#000" >8</text>
<line x1="1274.3" y1="481" x2="1274.3" y2="485.5" stroke="#000" stroke-width="1.8"/>
<line x1="1322.0" y1="481" x2="1322.0" y2="489" stroke="#000" stroke-width="1.8"/>
<text x="1322.0" y="518.0" font-size="28" text-anchor="middle" fill="#000" >10</text>
<text x="1060.0" y="564.0" font-size="32" text-anchor="middle" fill="#000" >Time delay (ps)</text>
<text transform="translate(717.5,270) rotate(-90)" font-size="32" text-anchor="middle">MSD (μm<tspan dy="-13" font-size="21">2</tspan><tspan dy="13">)</tspan></text>
<circle cx="822.2" cy="76.4" r="7.0" fill="#fcc8c0" stroke="#cc0000" stroke-width="2.8"/>
<text x="852.5" y="84.8" font-size="24" text-anchor="start" fill="#000" >3.02 eV</text>
<circle cx="822.2" cy="105.6" r="7.0" fill="#d3ecc4" stroke="#2ca02c" stroke-width="2.8"/>
<text x="852.5" y="114.0" font-size="24" text-anchor="start" fill="#000" >2.53 eV</text>
<circle cx="822.2" cy="134.8" r="7.0" fill="#bcdcf2" stroke="#2477b8" stroke-width="2.8"/>
<text x="852.5" y="143.2" font-size="24" text-anchor="start" fill="#000" >2.13 eV</text>
<text x="686.0" y="41.0" font-size="54" text-anchor="start" fill="#000" >(b)</text>
<defs>
<linearGradient id="gc_trail" x1="1565" y1="445" x2="1720" y2="405" gradientUnits="userSpaceOnUse"><stop offset="0" stop-color="#8ea8e0" stop-opacity="0"/><stop offset="1" stop-color="#8ea8e0" stop-opacity="0.95"/></linearGradient>
<radialGradient id="gc_glow"><stop offset="0.4" stop-color="#7b9be0" stop-opacity="0.9"/><stop offset="0.65" stop-color="#9cb3e6" stop-opacity="0.45"/><stop offset="1" stop-color="#c0d0f0" stop-opacity="0"/></radialGradient>
<radialGradient id="gc_sq"><stop offset="0.5" stop-color="#b4bfd2" stop-opacity="0.9"/><stop offset="1" stop-color="#b4bfd2" stop-opacity="0"/></radialGradient>
</defs>
<line x1="1476" y1="136.3" x2="1944.4" y2="136.3" stroke="#828282" stroke-width="4" stroke-dasharray="14,7.5"/>
<line x1="1476" y1="157.8" x2="1632" y2="157.8" stroke="#000" stroke-width="4" stroke-dasharray="14,7.5"/>
<line x1="1476" y1="451.4" x2="1520" y2="451.4" stroke="#5a8ef0" stroke-width="3.5" stroke-dasharray="10,5"/>
<text x="1739.0" y="122.4" font-size="32.4" text-anchor="middle" fill="#808080" >Polaron hopping transport</text>
<text x="1721.0" y="349.4" font-size="32" text-anchor="middle" fill="#8aa6dc" >Hot hole transport</text>
<path d="M1558,449 L1698,384 L1722,442 Z" fill="url(#gc_trail)" filter="url(#blur6)"/>
<circle cx="1738" cy="402" r="64" fill="url(#gc_glow)"/>
<g opacity="0.75">
<circle cx="1690.1" cy="412.5" r="26.6" fill="#a9bde6" stroke="#8c93a0" stroke-width="7.2"/>
</g>
<g opacity="0.85">
<circle cx="1713.5" cy="404.7" r="26.6" fill="#98b2e2" stroke="#484e5c" stroke-width="7.2"/>
</g>
<g>
<circle cx="1740.2" cy="400.5" r="26.6" fill="#8eaadf" stroke="#000" stroke-width="7.2"/>
<path d="M1750.0,382.1 A20.8,20.8 0 0 1 1758.6,390.7" fill="none" stroke="#fff" stroke-opacity="0.55" stroke-width="3.2" stroke-linecap="round"/>
<text x="1740.7" y="414.0" font-size="38" text-anchor="middle" fill="#000">h</text>
</g>
<rect x="1761.8" y="196" width="84" height="84" fill="#c0c9d9" filter="url(#blur7)" opacity="0.85"/>
<rect x="1864.1" y="221.60000000000002" width="84" height="84" fill="#c0c9d9" filter="url(#blur7)" opacity="0.85"/>
<g>
<circle cx="1803.8" cy="238.0" r="26.6" fill="#c3ccda" stroke="#000" stroke-width="7.2"/>
<path d="M1813.6,219.6 A20.8,20.8 0 0 1 1822.2,228.2" fill="none" stroke="#fff" stroke-opacity="0.55" stroke-width="3.2" stroke-linecap="round"/>
<text x="1804.3" y="251.5" font-size="38" text-anchor="middle" fill="#000">h</text>
</g>
<path d="M1828.7,264.7 A36.5,36.5 0 0 1 1778.9,264.7" fill="none" stroke="#000" stroke-width="4.8" stroke-linecap="round" stroke-dasharray="11.3,10.4"/>
<g>
<circle cx="1906.1" cy="263.6" r="26.6" fill="#c3ccda" stroke="#000" stroke-width="7.2"/>
<path d="M1915.9,245.2 A20.8,20.8 0 0 1 1924.5,253.8" fill="none" stroke="#fff" stroke-opacity="0.55" stroke-width="3.2" stroke-linecap="round"/>
<text x="1906.6" y="277.1" font-size="38" text-anchor="middle" fill="#000">h</text>
</g>
<path d="M1931.0,290.3 A36.5,36.5 0 0 1 1881.2,290.3" fill="none" stroke="#000" stroke-width="4.8" stroke-linecap="round" stroke-dasharray="11.3,10.4"/>
<path d="M1842,217.5 C1846,198 1862,186 1872,200" fill="none" stroke="#000" stroke-width="7" stroke-linecap="round"/>
<path d="M1863.5,204.7 L1882,200.5 L1877.2,221 Z" fill="#000"/>
<polyline points="1527.8,448.0 1548.6,301.2 1569.5,241.0 1590.3,219.9 1605.9,179.2 1631.9,151.3 1684.0,174.9 1736.1,147.0 1788.2,157.4 1840.2,168.1 1944.4,138.1" fill="none" stroke="#5cb0ea" stroke-width="1.7"/>
<circle cx="1527.8" cy="448.0" r="7.0" fill="#c2def2" stroke="#1f6bb0" stroke-width="3"/>
<circle cx="1548.6" cy="301.2" r="7.0" fill="#c2def2" stroke="#1f6bb0" stroke-width="3"/>
<circle cx="1569.5" cy="241.0" r="7.0" fill="#c2def2" stroke="#1f6bb0" stroke-width="3"/>
<circle cx="1590.3" cy="219.9" r="7.0" fill="#c2def2" stroke="#1f6bb0" stroke-width="3"/>
<circle cx="1605.9" cy="179.2" r="7.0" fill="#c2def2" stroke="#1f6bb0" stroke-width="3"/>
<circle cx="1631.9" cy="151.3" r="7.0" fill="#c2def2" stroke="#1f6bb0" stroke-width="3"/>
<circle cx="1684.0" cy="174.9" r="7.0" fill="#c2def2" stroke="#1f6bb0" stroke-width="3"/>
<circle cx="1736.1" cy="147.0" r="7.0" fill="#c2def2" stroke="#1f6bb0" stroke-width="3"/>
<circle cx="1788.2" cy="157.4" r="7.0" fill="#c2def2" stroke="#1f6bb0" stroke-width="3"/>
<circle cx="1840.2" cy="168.1" r="7.0" fill="#c2def2" stroke="#1f6bb0" stroke-width="3"/>
<circle cx="1944.4" cy="138.1" r="7.0" fill="#c2def2" stroke="#1f6bb0" stroke-width="3"/>
<rect x="1476" y="61" width="520.5" height="420" fill="none" stroke="#000" stroke-width="2"/>
<line x1="1471.5" y1="480.2" x2="1476" y2="480.2" stroke="#000" stroke-width="1.8"/>
<line x1="1468" y1="448.0" x2="1476" y2="448.0" stroke="#000" stroke-width="1.8"/>
<text x="1461.0" y="456.8" font-size="28.4" text-anchor="end" fill="#000" >0</text>
<line x1="1471.5" y1="415.8" x2="1476" y2="415.8" stroke="#000" stroke-width="1.8"/>
<line x1="1468" y1="383.5" x2="1476" y2="383.5" stroke="#000" stroke-width="1.8"/>
<text x="1461.0" y="392.3" font-size="28.4" text-anchor="end" fill="#000" >100</text>
<line x1="1471.5" y1="351.2" x2="1476" y2="351.2" stroke="#000" stroke-width="1.8"/>
<line x1="1468" y1="319.0" x2="1476" y2="319.0" stroke="#000" stroke-width="1.8"/>
<text x="1461.0" y="327.8" font-size="28.4" text-anchor="end" fill="#000" >200</text>
<line x1="1471.5" y1="286.8" x2="1476" y2="286.8" stroke="#000" stroke-width="1.8"/>
<line x1="1468" y1="254.5" x2="1476" y2="254.5" stroke="#000" stroke-width="1.8"/>
<text x="1461.0" y="263.3" font-size="28.4" text-anchor="end" fill="#000" >300</text>
<line x1="1471.5" y1="222.2" x2="1476" y2="222.2" stroke="#000" stroke-width="1.8"/>
<line x1="1468" y1="190.0" x2="1476" y2="190.0" stroke="#000" stroke-width="1.8"/>
<text x="1461.0" y="198.8" font-size="28.4" text-anchor="end" fill="#000" >400</text>
<line x1="1471.5" y1="157.8" x2="1476" y2="157.8" stroke="#000" stroke-width="1.8"/>
<line x1="1468" y1="125.5" x2="1476" y2="125.5" stroke="#000" stroke-width="1.8"/>
<text x="1461.0" y="134.3" font-size="28.4" text-anchor="end" fill="#000" >500</text>
<line x1="1471.5" y1="93.2" x2="1476" y2="93.2" stroke="#000" stroke-width="1.8"/>
<line x1="1468" y1="61.0" x2="1476" y2="61.0" stroke="#000" stroke-width="1.8"/>
<text x="1461.0" y="69.8" font-size="28.4" text-anchor="end" fill="#000" >600</text>
<line x1="1475.7" y1="481" x2="1475.7" y2="485.5" stroke="#000" stroke-width="1.8"/>
<line x1="1527.8" y1="481" x2="1527.8" y2="489" stroke="#000" stroke-width="1.8"/>
<text x="1527.8" y="517.0" font-size="28" text-anchor="middle" fill="#000" >0</text>
<line x1="1579.9" y1="481" x2="1579.9" y2="485.5" stroke="#000" stroke-width="1.8"/>
<line x1="1631.9" y1="481" x2="1631.9" y2="489" stroke="#000" stroke-width="1.8"/>
<text x="1631.9" y="517.0" font-size="28" text-anchor="middle" fill="#000" >2</text>
<line x1="1684.0" y1="481" x2="1684.0" y2="485.5" stroke="#000" stroke-width="1.8"/>
<line x1="1736.1" y1="481" x2="1736.1" y2="489" stroke="#000" stroke-width="1.8"/>
<text x="1736.1" y="517.0" font-size="28" text-anchor="middle" fill="#000" >4</text>
<line x1="1788.2" y1="481" x2="1788.2" y2="485.5" stroke="#000" stroke-width="1.8"/>
<line x1="1840.2" y1="481" x2="1840.2" y2="489" stroke="#000" stroke-width="1.8"/>
<text x="1840.2" y="517.0" font-size="28" text-anchor="middle" fill="#000" >6</text>
<line x1="1892.3" y1="481" x2="1892.3" y2="485.5" stroke="#000" stroke-width="1.8"/>
<line x1="1944.4" y1="481" x2="1944.4" y2="489" stroke="#000" stroke-width="1.8"/>
<text x="1944.4" y="517.0" font-size="28" text-anchor="middle" fill="#000" >8</text>
<line x1="1996.4" y1="481" x2="1996.4" y2="485.5" stroke="#000" stroke-width="1.8"/>
<text x="1736.0" y="561.6" font-size="32" text-anchor="middle" fill="#000" >Time delay (ps)</text>
<text transform="translate(1389.5,270) rotate(-90)" font-size="32" text-anchor="middle">Diffusion length (nm)</text>
<text x="1354.0" y="41.0" font-size="54" text-anchor="start" fill="#000" >(c)</text>
</svg>
</body></html>
